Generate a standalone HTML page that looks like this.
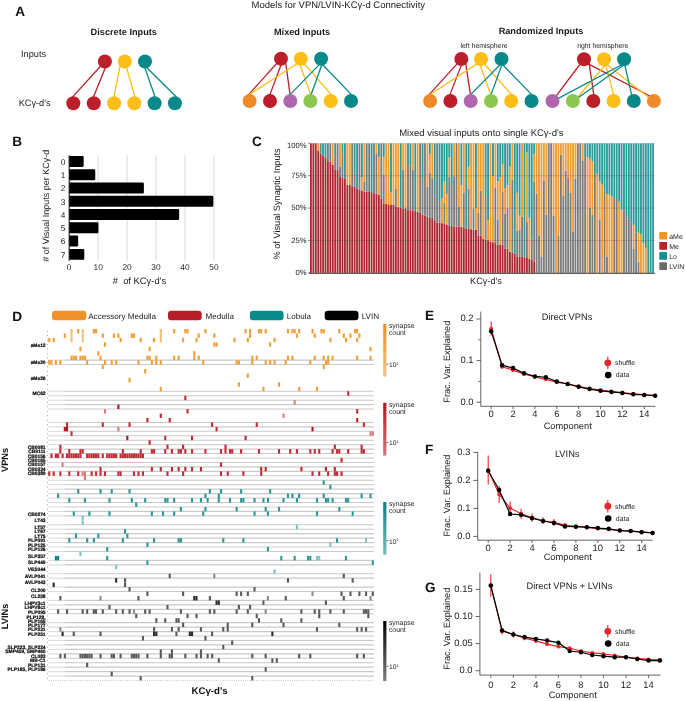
<!DOCTYPE html>
<html><head><meta charset="utf-8"><style>
html,body{margin:0;padding:0;background:#fff;}
svg{display:block;font-family:"Liberation Sans", sans-serif;}
.g{will-change:transform;}
</style></head><body>
<svg width="685" height="701" viewBox="0 0 685 701">
<rect width="685" height="701" fill="#fff"/>
<g class="g" text-rendering="geometricPrecision">
<text x="251.6" y="8.0" font-size="9.5" text-anchor="start" font-weight="400" fill="#1a1a1a" >Models for VPN/LVIN-KCγ-d Connectivity</text>
<text x="15.2" y="15.7" font-size="13.6" text-anchor="start" font-weight="700" fill="#111" >A</text>
<text x="123.8" y="34.5" font-size="9.2" text-anchor="middle" font-weight="700" fill="#1a1a1a" >Discrete Inputs</text>
<text x="302" y="34.5" font-size="9.2" text-anchor="middle" font-weight="700" fill="#1a1a1a" >Mixed Inputs</text>
<text x="541" y="34.4" font-size="9.2" text-anchor="middle" font-weight="700" fill="#1a1a1a" >Randomized Inputs</text>
<text x="484" y="48" font-size="6.9" text-anchor="middle" font-weight="400" fill="#1a1a1a" >left hemisphere</text>
<text x="602.8" y="48" font-size="6.9" text-anchor="middle" font-weight="400" fill="#1a1a1a" >right hemisphere</text>
<text x="21" y="56.7" font-size="9.2" text-anchor="start" font-weight="400" fill="#1a1a1a" >Inputs</text>
<text x="18.7" y="106" font-size="9.2" text-anchor="start" font-weight="400" fill="#1a1a1a" >KCγ-d's</text>
<line x1="100.96" y1="65.76" x2="72.41" y2="97.09" stroke="#BD1F2A" stroke-width="1.3"/>
<line x1="105.46" y1="67.39" x2="93.37" y2="97.31" stroke="#BD1F2A" stroke-width="1.3"/>
<line x1="120.22" y1="65.40" x2="113.82" y2="97.38" stroke="#FDBE17" stroke-width="1.3"/>
<line x1="126.36" y1="67.09" x2="135.09" y2="97.37" stroke="#FDBE17" stroke-width="1.3"/>
<line x1="144.68" y1="67.37" x2="155.17" y2="97.33" stroke="#088888" stroke-width="1.3"/>
<line x1="146.36" y1="67.30" x2="176.50" y2="97.08" stroke="#088888" stroke-width="1.3"/>
<circle cx="104.9" cy="61.5" r="7" fill="#BD1F2A"/>
<circle cx="124.8" cy="61.5" r="7" fill="#FDBE17"/>
<circle cx="145.0" cy="61.5" r="7" fill="#088888"/>
<circle cx="73.3" cy="103.2" r="7" fill="#BD1F2A"/>
<circle cx="93.8" cy="103.2" r="7" fill="#BD1F2A"/>
<circle cx="114.1" cy="103.2" r="7" fill="#FDBE17"/>
<circle cx="134.3" cy="103.2" r="7" fill="#FDBE17"/>
<circle cx="154.6" cy="103.2" r="7" fill="#088888"/>
<circle cx="174.9" cy="103.2" r="7" fill="#088888"/>
<line x1="277.10" y1="63.00" x2="248.39" y2="94.90" stroke="#BD1F2A" stroke-width="1.3"/>
<line x1="281.13" y1="64.57" x2="269.78" y2="95.13" stroke="#BD1F2A" stroke-width="1.3"/>
<line x1="285.63" y1="62.61" x2="290.17" y2="95.19" stroke="#BD1F2A" stroke-width="1.3"/>
<line x1="297.50" y1="63.57" x2="248.97" y2="94.66" stroke="#FDBE17" stroke-width="1.3"/>
<line x1="299.88" y1="64.55" x2="310.91" y2="95.13" stroke="#FDBE17" stroke-width="1.3"/>
<line x1="304.11" y1="63.47" x2="331.39" y2="94.91" stroke="#FDBE17" stroke-width="1.3"/>
<line x1="319.54" y1="64.42" x2="289.85" y2="94.87" stroke="#088888" stroke-width="1.3"/>
<line x1="321.92" y1="64.56" x2="310.87" y2="95.18" stroke="#088888" stroke-width="1.3"/>
<line x1="322.45" y1="64.49" x2="351.63" y2="94.87" stroke="#088888" stroke-width="1.3"/>
<circle cx="281" cy="58.7" r="7" fill="#BD1F2A"/>
<circle cx="300.8" cy="58.7" r="7" fill="#FDBE17"/>
<circle cx="321.1" cy="58.7" r="7" fill="#088888"/>
<circle cx="249.6" cy="101" r="7" fill="#EE8A2A"/>
<circle cx="270" cy="101" r="7" fill="#BD1F2A"/>
<circle cx="290.3" cy="101" r="7" fill="#B066AC"/>
<circle cx="310.4" cy="101" r="7" fill="#8DC650"/>
<circle cx="330.7" cy="101" r="7" fill="#FDBE17"/>
<circle cx="351" cy="101" r="7" fill="#088888"/>
<line x1="457.55" y1="63.42" x2="428.88" y2="94.90" stroke="#BD1F2A" stroke-width="1.3"/>
<line x1="461.54" y1="64.88" x2="449.76" y2="95.12" stroke="#BD1F2A" stroke-width="1.3"/>
<line x1="465.67" y1="63.13" x2="470.48" y2="95.20" stroke="#BD1F2A" stroke-width="1.3"/>
<line x1="477.38" y1="63.59" x2="429.84" y2="94.70" stroke="#FDBE17" stroke-width="1.3"/>
<line x1="479.98" y1="64.84" x2="490.91" y2="95.15" stroke="#FDBE17" stroke-width="1.3"/>
<line x1="484.32" y1="63.76" x2="511.80" y2="94.90" stroke="#FDBE17" stroke-width="1.3"/>
<line x1="500.11" y1="64.78" x2="470.34" y2="94.87" stroke="#088888" stroke-width="1.3"/>
<line x1="501.81" y1="64.87" x2="490.89" y2="95.14" stroke="#088888" stroke-width="1.3"/>
<line x1="502.75" y1="64.82" x2="531.95" y2="94.87" stroke="#088888" stroke-width="1.3"/>
<circle cx="461.3" cy="59" r="7" fill="#BD1F2A"/>
<circle cx="481" cy="59" r="7" fill="#FDBE17"/>
<circle cx="501.5" cy="59" r="7" fill="#088888"/>
<circle cx="430.1" cy="101" r="7" fill="#EE8A2A"/>
<circle cx="450.4" cy="101" r="7" fill="#BD1F2A"/>
<circle cx="470.7" cy="101" r="7" fill="#B066AC"/>
<circle cx="491" cy="101" r="7" fill="#8DC650"/>
<circle cx="511.2" cy="101" r="7" fill="#FDBE17"/>
<circle cx="531.5" cy="101" r="7" fill="#088888"/>
<line x1="580.40" y1="63.75" x2="555.88" y2="96.28" stroke="#BD1F2A" stroke-width="1.3"/>
<line x1="589.01" y1="62.72" x2="593.88" y2="95.20" stroke="#BD1F2A" stroke-width="1.3"/>
<line x1="587.78" y1="63.70" x2="650.37" y2="96.27" stroke="#BD1F2A" stroke-width="1.3"/>
<line x1="604.91" y1="65.29" x2="577.49" y2="97.54" stroke="#FDBE17" stroke-width="1.3"/>
<line x1="605.67" y1="64.78" x2="613.81" y2="95.16" stroke="#FDBE17" stroke-width="1.3"/>
<line x1="606.74" y1="64.47" x2="649.16" y2="97.65" stroke="#FDBE17" stroke-width="1.3"/>
<line x1="621.80" y1="64.78" x2="557.78" y2="98.60" stroke="#088888" stroke-width="1.3"/>
<line x1="623.38" y1="65.29" x2="577.82" y2="98.09" stroke="#088888" stroke-width="1.3"/>
<line x1="624.76" y1="64.97" x2="631.85" y2="95.53" stroke="#088888" stroke-width="1.3"/>
<circle cx="584" cy="59.2" r="7" fill="#BD1F2A"/>
<circle cx="604.1" cy="59.2" r="7" fill="#FDBE17"/>
<circle cx="624.1" cy="59.2" r="7" fill="#088888"/>
<circle cx="552.5" cy="101" r="7" fill="#B066AC"/>
<circle cx="572.8" cy="101" r="7" fill="#8DC650"/>
<circle cx="593.3" cy="101" r="7" fill="#BD1F2A"/>
<circle cx="613.6" cy="101" r="7" fill="#FDBE17"/>
<circle cx="633.8" cy="101" r="7" fill="#088888"/>
<circle cx="653.9" cy="101" r="7" fill="#EE8A2A"/>
<text x="12.2" y="145.7" font-size="13.6" text-anchor="start" font-weight="700" fill="#111" >B</text>
<line x1="98.14" y1="155.2" x2="98.14" y2="260.8" stroke="#d0d0d0" stroke-width="0.8"/>
<line x1="127.08" y1="155.2" x2="127.08" y2="260.8" stroke="#d0d0d0" stroke-width="0.8"/>
<line x1="156.02" y1="155.2" x2="156.02" y2="260.8" stroke="#d0d0d0" stroke-width="0.8"/>
<line x1="184.96" y1="155.2" x2="184.96" y2="260.8" stroke="#d0d0d0" stroke-width="0.8"/>
<line x1="213.90" y1="155.2" x2="213.90" y2="260.8" stroke="#d0d0d0" stroke-width="0.8"/>
<rect x="69.2" y="156.00" width="14.47" height="10.9" rx="1.2" fill="#000"/>
<text x="63" y="164.85" font-size="8.3" text-anchor="middle" font-weight="400" fill="#222" >0</text>
<rect x="69.2" y="169.27" width="26.05" height="10.9" rx="1.2" fill="#000"/>
<text x="63" y="178.12" font-size="8.3" text-anchor="middle" font-weight="400" fill="#222" >1</text>
<rect x="69.2" y="182.54" width="74.67" height="10.9" rx="1.2" fill="#000"/>
<text x="63" y="191.39" font-size="8.3" text-anchor="middle" font-weight="400" fill="#222" >2</text>
<rect x="69.2" y="195.81" width="144.12" height="10.9" rx="1.2" fill="#000"/>
<text x="63" y="204.66" font-size="8.3" text-anchor="middle" font-weight="400" fill="#222" >3</text>
<rect x="69.2" y="209.08" width="109.97" height="10.9" rx="1.2" fill="#000"/>
<text x="63" y="217.92999999999998" font-size="8.3" text-anchor="middle" font-weight="400" fill="#222" >4</text>
<rect x="69.2" y="222.35" width="29.23" height="10.9" rx="1.2" fill="#000"/>
<text x="63" y="231.2" font-size="8.3" text-anchor="middle" font-weight="400" fill="#222" >5</text>
<rect x="69.2" y="235.62" width="8.97" height="10.9" rx="1.2" fill="#000"/>
<text x="63" y="244.47" font-size="8.3" text-anchor="middle" font-weight="400" fill="#222" >6</text>
<rect x="69.2" y="248.89" width="15.05" height="10.9" rx="1.2" fill="#000"/>
<text x="63" y="257.73999999999995" font-size="8.3" text-anchor="middle" font-weight="400" fill="#222" >7</text>
<line x1="69.2" y1="155.2" x2="69.2" y2="260.8" stroke="#111" stroke-width="1.1"/>
<text x="69.2" y="270.2" font-size="8.4" text-anchor="middle" font-weight="400" fill="#222" >0</text>
<text x="98.14" y="270.2" font-size="8.4" text-anchor="middle" font-weight="400" fill="#222" >10</text>
<text x="127.08000000000001" y="270.2" font-size="8.4" text-anchor="middle" font-weight="400" fill="#222" >20</text>
<text x="156.02" y="270.2" font-size="8.4" text-anchor="middle" font-weight="400" fill="#222" >30</text>
<text x="184.96" y="270.2" font-size="8.4" text-anchor="middle" font-weight="400" fill="#222" >40</text>
<text x="213.90000000000003" y="270.2" font-size="8.4" text-anchor="middle" font-weight="400" fill="#222" >50</text>
<text x="139.4" y="283.8" font-size="9.4" text-anchor="middle" font-weight="400" fill="#222" >#&#160; of KCγ-d's</text>
<text x="0" y="0" font-size="9.0" text-anchor="middle" font-weight="400" fill="#222" transform="translate(49.2,205.7) rotate(-90)"># of Visual Inputs per KCγ-d</text>
<text x="425.1" y="319.8" font-size="13.6" text-anchor="start" font-weight="700" fill="#111" >E</text>
<text x="567" y="320.4" font-size="9.3" text-anchor="middle" font-weight="400" fill="#222" >Direct VPNs</text>
<line x1="480.8" y1="311.7" x2="480.8" y2="406.3" stroke="#555" stroke-width="0.9"/>
<line x1="480.8" y1="406.3" x2="655.4" y2="406.3" stroke="#555" stroke-width="0.9"/>
<line x1="476.40000000000003" y1="402.20" x2="480.8" y2="402.20" stroke="#555" stroke-width="0.9"/>
<text x="473.5" y="404.5" font-size="9.4" text-anchor="end" font-weight="400" fill="#222" >0.0</text>
<line x1="476.40000000000003" y1="360.60" x2="480.8" y2="360.60" stroke="#555" stroke-width="0.9"/>
<text x="473.5" y="362.9" font-size="9.4" text-anchor="end" font-weight="400" fill="#222" >0.1</text>
<line x1="476.40000000000003" y1="319.00" x2="480.8" y2="319.00" stroke="#555" stroke-width="0.9"/>
<text x="473.5" y="321.3" font-size="9.4" text-anchor="end" font-weight="400" fill="#222" >0.2</text>
<line x1="478.3" y1="381.40" x2="480.8" y2="381.40" stroke="#555" stroke-width="0.9"/>
<line x1="478.3" y1="339.80" x2="480.8" y2="339.80" stroke="#555" stroke-width="0.9"/>
<line x1="491.20" y1="406.3" x2="491.20" y2="409.1" stroke="#555" stroke-width="0.9"/>
<text x="491.2" y="417.3" font-size="9.4" text-anchor="middle" font-weight="400" fill="#222" >0</text>
<line x1="513.06" y1="406.3" x2="513.06" y2="409.1" stroke="#555" stroke-width="0.9"/>
<text x="513.06" y="417.3" font-size="9.4" text-anchor="middle" font-weight="400" fill="#222" >2</text>
<line x1="534.92" y1="406.3" x2="534.92" y2="409.1" stroke="#555" stroke-width="0.9"/>
<text x="534.92" y="417.3" font-size="9.4" text-anchor="middle" font-weight="400" fill="#222" >4</text>
<line x1="556.78" y1="406.3" x2="556.78" y2="409.1" stroke="#555" stroke-width="0.9"/>
<text x="556.78" y="417.3" font-size="9.4" text-anchor="middle" font-weight="400" fill="#222" >6</text>
<line x1="578.64" y1="406.3" x2="578.64" y2="409.1" stroke="#555" stroke-width="0.9"/>
<text x="578.64" y="417.3" font-size="9.4" text-anchor="middle" font-weight="400" fill="#222" >8</text>
<line x1="600.50" y1="406.3" x2="600.50" y2="409.1" stroke="#555" stroke-width="0.9"/>
<text x="600.5" y="417.3" font-size="9.4" text-anchor="middle" font-weight="400" fill="#222" >10</text>
<line x1="622.36" y1="406.3" x2="622.36" y2="409.1" stroke="#555" stroke-width="0.9"/>
<text x="622.36" y="417.3" font-size="9.4" text-anchor="middle" font-weight="400" fill="#222" >12</text>
<line x1="644.22" y1="406.3" x2="644.22" y2="409.1" stroke="#555" stroke-width="0.9"/>
<text x="644.22" y="417.3" font-size="9.4" text-anchor="middle" font-weight="400" fill="#222" >14</text>
<text x="567.7" y="428.7" font-size="9.3" text-anchor="middle" font-weight="400" fill="#222" >Component</text>
<text x="0" y="0" font-size="9.2" text-anchor="middle" font-weight="400" fill="#1a1a1a" transform="translate(450,361.7) rotate(-90)">Frac. Var. Explained</text>
<polyline points="491.20,328.57 502.13,366.84 513.06,370.17 523.99,373.91 534.92,376.82 545.85,379.32 556.78,382.23 567.71,383.90 578.64,386.39 589.57,388.47 600.50,390.14 611.43,391.38 622.36,392.63 633.29,393.88 644.22,394.71 655.15,395.54" fill="none" stroke="#E8262B" stroke-width="1.2"/>
<line x1="491.20" y1="321.50" x2="491.20" y2="335.64" stroke="#E8262B" stroke-width="1.1"/>
<circle cx="491.20" cy="328.57" r="1.9" fill="#E8262B"/>
<line x1="502.13" y1="365.18" x2="502.13" y2="368.50" stroke="#E8262B" stroke-width="1.1"/>
<circle cx="502.13" cy="366.84" r="1.9" fill="#E8262B"/>
<line x1="513.06" y1="368.50" x2="513.06" y2="371.83" stroke="#E8262B" stroke-width="1.1"/>
<circle cx="513.06" cy="370.17" r="1.9" fill="#E8262B"/>
<line x1="523.99" y1="372.66" x2="523.99" y2="375.16" stroke="#E8262B" stroke-width="1.1"/>
<circle cx="523.99" cy="373.91" r="1.9" fill="#E8262B"/>
<line x1="534.92" y1="375.58" x2="534.92" y2="378.07" stroke="#E8262B" stroke-width="1.1"/>
<circle cx="534.92" cy="376.82" r="1.9" fill="#E8262B"/>
<line x1="545.85" y1="378.07" x2="545.85" y2="380.57" stroke="#E8262B" stroke-width="1.1"/>
<circle cx="545.85" cy="379.32" r="1.9" fill="#E8262B"/>
<line x1="556.78" y1="381.40" x2="556.78" y2="383.06" stroke="#E8262B" stroke-width="1.1"/>
<circle cx="556.78" cy="382.23" r="1.9" fill="#E8262B"/>
<line x1="567.71" y1="383.06" x2="567.71" y2="384.73" stroke="#E8262B" stroke-width="1.1"/>
<circle cx="567.71" cy="383.90" r="1.9" fill="#E8262B"/>
<line x1="578.64" y1="385.56" x2="578.64" y2="387.22" stroke="#E8262B" stroke-width="1.1"/>
<circle cx="578.64" cy="386.39" r="1.9" fill="#E8262B"/>
<line x1="589.57" y1="387.64" x2="589.57" y2="389.30" stroke="#E8262B" stroke-width="1.1"/>
<circle cx="589.57" cy="388.47" r="1.9" fill="#E8262B"/>
<line x1="600.50" y1="389.30" x2="600.50" y2="390.97" stroke="#E8262B" stroke-width="1.1"/>
<circle cx="600.50" cy="390.14" r="1.9" fill="#E8262B"/>
<line x1="611.43" y1="390.55" x2="611.43" y2="392.22" stroke="#E8262B" stroke-width="1.1"/>
<circle cx="611.43" cy="391.38" r="1.9" fill="#E8262B"/>
<line x1="622.36" y1="391.80" x2="622.36" y2="393.46" stroke="#E8262B" stroke-width="1.1"/>
<circle cx="622.36" cy="392.63" r="1.9" fill="#E8262B"/>
<line x1="633.29" y1="393.05" x2="633.29" y2="394.71" stroke="#E8262B" stroke-width="1.1"/>
<circle cx="633.29" cy="393.88" r="1.9" fill="#E8262B"/>
<line x1="644.22" y1="394.30" x2="644.22" y2="395.13" stroke="#E8262B" stroke-width="1.1"/>
<circle cx="644.22" cy="394.71" r="1.9" fill="#E8262B"/>
<line x1="655.15" y1="395.13" x2="655.15" y2="395.96" stroke="#E8262B" stroke-width="1.1"/>
<circle cx="655.15" cy="395.54" r="1.9" fill="#E8262B"/>
<polyline points="491.20,331.31 502.13,365.18 513.06,368.09 523.99,373.29 534.92,376.41 545.85,377.24 556.78,381.61 567.71,383.98 578.64,386.81 589.57,389.10 600.50,390.80 611.43,391.88 622.36,393.01 633.29,394.30 644.22,395.00 655.15,395.71" fill="none" stroke="#000" stroke-width="1.2"/>
<circle cx="491.20" cy="331.31" r="2.25" fill="#000"/>
<circle cx="502.13" cy="365.18" r="2.25" fill="#000"/>
<circle cx="513.06" cy="368.09" r="2.25" fill="#000"/>
<circle cx="523.99" cy="373.29" r="2.25" fill="#000"/>
<circle cx="534.92" cy="376.41" r="2.25" fill="#000"/>
<circle cx="545.85" cy="377.24" r="2.25" fill="#000"/>
<circle cx="556.78" cy="381.61" r="2.25" fill="#000"/>
<circle cx="567.71" cy="383.98" r="2.25" fill="#000"/>
<circle cx="578.64" cy="386.81" r="2.25" fill="#000"/>
<circle cx="589.57" cy="389.10" r="2.25" fill="#000"/>
<circle cx="600.50" cy="390.80" r="2.25" fill="#000"/>
<circle cx="611.43" cy="391.88" r="2.25" fill="#000"/>
<circle cx="622.36" cy="393.01" r="2.25" fill="#000"/>
<circle cx="633.29" cy="394.30" r="2.25" fill="#000"/>
<circle cx="644.22" cy="395.00" r="2.25" fill="#000"/>
<circle cx="655.15" cy="395.71" r="2.25" fill="#000"/>
<line x1="607.8" y1="356.5" x2="607.8" y2="369.1" stroke="#E8262B" stroke-width="1.1"/>
<circle cx="607.8" cy="362.8" r="3.4" fill="#E8262B"/>
<text x="615" y="365.1" font-size="6.9" text-anchor="start" font-weight="400" fill="#1a1a1a" >shuffle</text>
<circle cx="608.2" cy="375.1" r="3.3" fill="#000"/>
<text x="615.8" y="377.40000000000003" font-size="6.9" text-anchor="start" font-weight="400" fill="#1a1a1a" >data</text>
<text x="425.1" y="454.0" font-size="13.6" text-anchor="start" font-weight="700" fill="#111" >F</text>
<text x="567.2" y="456.5" font-size="9.3" text-anchor="middle" font-weight="400" fill="#222" >LVINs</text>
<line x1="477.7" y1="451.9" x2="477.7" y2="540.2" stroke="#555" stroke-width="0.9"/>
<line x1="477.7" y1="540.2" x2="652.7" y2="540.2" stroke="#555" stroke-width="0.9"/>
<line x1="473.3" y1="536.40" x2="477.7" y2="536.40" stroke="#555" stroke-width="0.9"/>
<text x="470.4" y="538.6999999999999" font-size="9.4" text-anchor="end" font-weight="400" fill="#222" >0.0</text>
<line x1="473.3" y1="508.40" x2="477.7" y2="508.40" stroke="#555" stroke-width="0.9"/>
<text x="470.4" y="510.7" font-size="9.4" text-anchor="end" font-weight="400" fill="#222" >0.1</text>
<line x1="473.3" y1="480.40" x2="477.7" y2="480.40" stroke="#555" stroke-width="0.9"/>
<text x="470.4" y="482.7" font-size="9.4" text-anchor="end" font-weight="400" fill="#222" >0.2</text>
<line x1="473.3" y1="452.40" x2="477.7" y2="452.40" stroke="#555" stroke-width="0.9"/>
<text x="470.4" y="454.7" font-size="9.4" text-anchor="end" font-weight="400" fill="#222" >0.3</text>
<line x1="488.20" y1="540.2" x2="488.20" y2="543.0" stroke="#555" stroke-width="0.9"/>
<text x="488.2" y="550.5" font-size="9.4" text-anchor="middle" font-weight="400" fill="#222" >0</text>
<line x1="510.12" y1="540.2" x2="510.12" y2="543.0" stroke="#555" stroke-width="0.9"/>
<text x="510.12" y="550.5" font-size="9.4" text-anchor="middle" font-weight="400" fill="#222" >2</text>
<line x1="532.04" y1="540.2" x2="532.04" y2="543.0" stroke="#555" stroke-width="0.9"/>
<text x="532.04" y="550.5" font-size="9.4" text-anchor="middle" font-weight="400" fill="#222" >4</text>
<line x1="553.96" y1="540.2" x2="553.96" y2="543.0" stroke="#555" stroke-width="0.9"/>
<text x="553.96" y="550.5" font-size="9.4" text-anchor="middle" font-weight="400" fill="#222" >6</text>
<line x1="575.88" y1="540.2" x2="575.88" y2="543.0" stroke="#555" stroke-width="0.9"/>
<text x="575.88" y="550.5" font-size="9.4" text-anchor="middle" font-weight="400" fill="#222" >8</text>
<line x1="597.80" y1="540.2" x2="597.80" y2="543.0" stroke="#555" stroke-width="0.9"/>
<text x="597.8" y="550.5" font-size="9.4" text-anchor="middle" font-weight="400" fill="#222" >10</text>
<line x1="619.72" y1="540.2" x2="619.72" y2="543.0" stroke="#555" stroke-width="0.9"/>
<text x="619.72" y="550.5" font-size="9.4" text-anchor="middle" font-weight="400" fill="#222" >12</text>
<line x1="641.64" y1="540.2" x2="641.64" y2="543.0" stroke="#555" stroke-width="0.9"/>
<text x="641.64" y="550.5" font-size="9.4" text-anchor="middle" font-weight="400" fill="#222" >14</text>
<text x="567.7" y="560.2" font-size="9.3" text-anchor="middle" font-weight="400" fill="#222" >Component</text>
<text x="0" y="0" font-size="9.2" text-anchor="middle" font-weight="400" fill="#1a1a1a" transform="translate(450,495.6) rotate(-90)">Frac. Var. Explained</text>
<polyline points="488.20,470.04 499.16,494.40 510.12,508.12 521.08,513.72 532.04,517.64 543.00,520.72 553.96,522.40 564.92,525.20 575.88,526.32 586.84,527.44 597.80,528.56 608.76,529.40 619.72,530.52 630.68,531.08 641.64,531.92 652.60,532.76" fill="none" stroke="#E8262B" stroke-width="1.2"/>
<line x1="488.20" y1="455.48" x2="488.20" y2="484.60" stroke="#E8262B" stroke-width="1.1"/>
<circle cx="488.20" cy="470.04" r="1.9" fill="#E8262B"/>
<line x1="499.16" y1="485.72" x2="499.16" y2="503.08" stroke="#E8262B" stroke-width="1.1"/>
<circle cx="499.16" cy="494.40" r="1.9" fill="#E8262B"/>
<line x1="510.12" y1="501.40" x2="510.12" y2="514.84" stroke="#E8262B" stroke-width="1.1"/>
<circle cx="510.12" cy="508.12" r="1.9" fill="#E8262B"/>
<line x1="521.08" y1="508.68" x2="521.08" y2="518.76" stroke="#E8262B" stroke-width="1.1"/>
<circle cx="521.08" cy="513.72" r="1.9" fill="#E8262B"/>
<line x1="532.04" y1="513.44" x2="532.04" y2="521.84" stroke="#E8262B" stroke-width="1.1"/>
<circle cx="532.04" cy="517.64" r="1.9" fill="#E8262B"/>
<line x1="543.00" y1="517.36" x2="543.00" y2="524.08" stroke="#E8262B" stroke-width="1.1"/>
<circle cx="543.00" cy="520.72" r="1.9" fill="#E8262B"/>
<line x1="553.96" y1="519.04" x2="553.96" y2="525.76" stroke="#E8262B" stroke-width="1.1"/>
<circle cx="553.96" cy="522.40" r="1.9" fill="#E8262B"/>
<line x1="564.92" y1="522.96" x2="564.92" y2="527.44" stroke="#E8262B" stroke-width="1.1"/>
<circle cx="564.92" cy="525.20" r="1.9" fill="#E8262B"/>
<line x1="575.88" y1="524.64" x2="575.88" y2="528.00" stroke="#E8262B" stroke-width="1.1"/>
<circle cx="575.88" cy="526.32" r="1.9" fill="#E8262B"/>
<line x1="586.84" y1="526.04" x2="586.84" y2="528.84" stroke="#E8262B" stroke-width="1.1"/>
<circle cx="586.84" cy="527.44" r="1.9" fill="#E8262B"/>
<line x1="597.80" y1="527.16" x2="597.80" y2="529.96" stroke="#E8262B" stroke-width="1.1"/>
<circle cx="597.80" cy="528.56" r="1.9" fill="#E8262B"/>
<line x1="608.76" y1="528.00" x2="608.76" y2="530.80" stroke="#E8262B" stroke-width="1.1"/>
<circle cx="608.76" cy="529.40" r="1.9" fill="#E8262B"/>
<line x1="619.72" y1="529.40" x2="619.72" y2="531.64" stroke="#E8262B" stroke-width="1.1"/>
<circle cx="619.72" cy="530.52" r="1.9" fill="#E8262B"/>
<line x1="630.68" y1="530.24" x2="630.68" y2="531.92" stroke="#E8262B" stroke-width="1.1"/>
<circle cx="630.68" cy="531.08" r="1.9" fill="#E8262B"/>
<line x1="641.64" y1="531.08" x2="641.64" y2="532.76" stroke="#E8262B" stroke-width="1.1"/>
<circle cx="641.64" cy="531.92" r="1.9" fill="#E8262B"/>
<line x1="652.60" y1="531.92" x2="652.60" y2="533.60" stroke="#E8262B" stroke-width="1.1"/>
<circle cx="652.60" cy="532.76" r="1.9" fill="#E8262B"/>
<polyline points="488.20,470.71 499.16,489.92 510.12,514.00 521.08,514.84 532.04,518.20 543.00,521.00 553.96,522.96 564.92,526.40 575.88,526.71 586.84,527.16 597.80,528.11 608.76,528.84 619.72,530.60 630.68,531.08 641.64,532.20 652.60,532.90" fill="none" stroke="#000" stroke-width="1.2"/>
<circle cx="488.20" cy="470.71" r="2.25" fill="#000"/>
<circle cx="499.16" cy="489.92" r="2.25" fill="#000"/>
<circle cx="510.12" cy="514.00" r="2.25" fill="#000"/>
<circle cx="521.08" cy="514.84" r="2.25" fill="#000"/>
<circle cx="532.04" cy="518.20" r="2.25" fill="#000"/>
<circle cx="543.00" cy="521.00" r="2.25" fill="#000"/>
<circle cx="553.96" cy="522.96" r="2.25" fill="#000"/>
<circle cx="564.92" cy="526.40" r="2.25" fill="#000"/>
<circle cx="575.88" cy="526.71" r="2.25" fill="#000"/>
<circle cx="586.84" cy="527.16" r="2.25" fill="#000"/>
<circle cx="597.80" cy="528.11" r="2.25" fill="#000"/>
<circle cx="608.76" cy="528.84" r="2.25" fill="#000"/>
<circle cx="619.72" cy="530.60" r="2.25" fill="#000"/>
<circle cx="630.68" cy="531.08" r="2.25" fill="#000"/>
<circle cx="641.64" cy="532.20" r="2.25" fill="#000"/>
<circle cx="652.60" cy="532.90" r="2.25" fill="#000"/>
<line x1="607.8" y1="499.9" x2="607.8" y2="512.5" stroke="#E8262B" stroke-width="1.1"/>
<circle cx="607.8" cy="506.2" r="3.4" fill="#E8262B"/>
<text x="615" y="508.5" font-size="6.9" text-anchor="start" font-weight="400" fill="#1a1a1a" >shuffle</text>
<circle cx="608.2" cy="518.5" r="3.3" fill="#000"/>
<text x="615.8" y="520.8" font-size="6.9" text-anchor="start" font-weight="400" fill="#1a1a1a" >data</text>
<text x="425.0" y="592.2" font-size="13.6" text-anchor="start" font-weight="700" fill="#111" >G</text>
<text x="569.4" y="588.5" font-size="9.3" text-anchor="middle" font-weight="400" fill="#222" >Direct VPNs + LVINs</text>
<line x1="479.9" y1="572.6" x2="479.9" y2="675.1" stroke="#555" stroke-width="0.9"/>
<line x1="479.9" y1="675.1" x2="660.6" y2="675.1" stroke="#555" stroke-width="0.9"/>
<line x1="475.5" y1="670.70" x2="479.9" y2="670.70" stroke="#555" stroke-width="0.9"/>
<text x="472.59999999999997" y="673.0" font-size="9.4" text-anchor="end" font-weight="400" fill="#222" >0.0</text>
<line x1="475.5" y1="643.60" x2="479.9" y2="643.60" stroke="#555" stroke-width="0.9"/>
<text x="472.59999999999997" y="645.9" font-size="9.4" text-anchor="end" font-weight="400" fill="#222" >0.05</text>
<line x1="475.5" y1="616.50" x2="479.9" y2="616.50" stroke="#555" stroke-width="0.9"/>
<text x="472.59999999999997" y="618.8" font-size="9.4" text-anchor="end" font-weight="400" fill="#222" >0.10</text>
<line x1="475.5" y1="589.40" x2="479.9" y2="589.40" stroke="#555" stroke-width="0.9"/>
<text x="472.59999999999997" y="591.7" font-size="9.4" text-anchor="end" font-weight="400" fill="#222" >0.15</text>
<line x1="490.80" y1="675.1" x2="490.80" y2="677.9" stroke="#555" stroke-width="0.9"/>
<text x="490.8" y="687.9" font-size="9.4" text-anchor="middle" font-weight="400" fill="#222" >0</text>
<line x1="513.34" y1="675.1" x2="513.34" y2="677.9" stroke="#555" stroke-width="0.9"/>
<text x="513.34" y="687.9" font-size="9.4" text-anchor="middle" font-weight="400" fill="#222" >2</text>
<line x1="535.88" y1="675.1" x2="535.88" y2="677.9" stroke="#555" stroke-width="0.9"/>
<text x="535.88" y="687.9" font-size="9.4" text-anchor="middle" font-weight="400" fill="#222" >4</text>
<line x1="558.42" y1="675.1" x2="558.42" y2="677.9" stroke="#555" stroke-width="0.9"/>
<text x="558.4200000000001" y="687.9" font-size="9.4" text-anchor="middle" font-weight="400" fill="#222" >6</text>
<line x1="580.96" y1="675.1" x2="580.96" y2="677.9" stroke="#555" stroke-width="0.9"/>
<text x="580.96" y="687.9" font-size="9.4" text-anchor="middle" font-weight="400" fill="#222" >8</text>
<line x1="603.50" y1="675.1" x2="603.50" y2="677.9" stroke="#555" stroke-width="0.9"/>
<text x="603.5" y="687.9" font-size="9.4" text-anchor="middle" font-weight="400" fill="#222" >10</text>
<line x1="626.04" y1="675.1" x2="626.04" y2="677.9" stroke="#555" stroke-width="0.9"/>
<text x="626.04" y="687.9" font-size="9.4" text-anchor="middle" font-weight="400" fill="#222" >12</text>
<line x1="648.58" y1="675.1" x2="648.58" y2="677.9" stroke="#555" stroke-width="0.9"/>
<text x="648.58" y="687.9" font-size="9.4" text-anchor="middle" font-weight="400" fill="#222" >14</text>
<text x="572.7" y="697.6" font-size="9.3" text-anchor="middle" font-weight="400" fill="#222" >Component</text>
<text x="0" y="0" font-size="9.2" text-anchor="middle" font-weight="400" fill="#1a1a1a" transform="translate(450,628.7) rotate(-90)">Frac. Var. Explained</text>
<polyline points="490.80,585.61 502.07,631.13 513.34,634.39 524.61,638.18 535.88,640.89 547.15,644.14 558.42,646.58 569.69,648.21 580.96,651.03 592.23,652.81 603.50,653.90 614.77,655.52 626.04,657.15 637.31,658.40 648.58,659.32 659.85,659.86" fill="none" stroke="#E8262B" stroke-width="1.2"/>
<line x1="490.80" y1="574.22" x2="490.80" y2="596.99" stroke="#E8262B" stroke-width="1.1"/>
<circle cx="490.80" cy="585.61" r="1.9" fill="#E8262B"/>
<line x1="502.07" y1="627.88" x2="502.07" y2="634.39" stroke="#E8262B" stroke-width="1.1"/>
<circle cx="502.07" cy="631.13" r="1.9" fill="#E8262B"/>
<line x1="513.34" y1="631.13" x2="513.34" y2="637.64" stroke="#E8262B" stroke-width="1.1"/>
<circle cx="513.34" cy="634.39" r="1.9" fill="#E8262B"/>
<line x1="524.61" y1="636.01" x2="524.61" y2="640.35" stroke="#E8262B" stroke-width="1.1"/>
<circle cx="524.61" cy="638.18" r="1.9" fill="#E8262B"/>
<line x1="535.88" y1="638.72" x2="535.88" y2="643.06" stroke="#E8262B" stroke-width="1.1"/>
<circle cx="535.88" cy="640.89" r="1.9" fill="#E8262B"/>
<line x1="547.15" y1="642.52" x2="547.15" y2="645.77" stroke="#E8262B" stroke-width="1.1"/>
<circle cx="547.15" cy="644.14" r="1.9" fill="#E8262B"/>
<line x1="558.42" y1="644.96" x2="558.42" y2="648.21" stroke="#E8262B" stroke-width="1.1"/>
<circle cx="558.42" cy="646.58" r="1.9" fill="#E8262B"/>
<line x1="569.69" y1="646.58" x2="569.69" y2="649.83" stroke="#E8262B" stroke-width="1.1"/>
<circle cx="569.69" cy="648.21" r="1.9" fill="#E8262B"/>
<line x1="580.96" y1="649.40" x2="580.96" y2="652.65" stroke="#E8262B" stroke-width="1.1"/>
<circle cx="580.96" cy="651.03" r="1.9" fill="#E8262B"/>
<line x1="592.23" y1="651.73" x2="592.23" y2="653.90" stroke="#E8262B" stroke-width="1.1"/>
<circle cx="592.23" cy="652.81" r="1.9" fill="#E8262B"/>
<line x1="603.50" y1="652.81" x2="603.50" y2="654.98" stroke="#E8262B" stroke-width="1.1"/>
<circle cx="603.50" cy="653.90" r="1.9" fill="#E8262B"/>
<line x1="614.77" y1="654.44" x2="614.77" y2="656.61" stroke="#E8262B" stroke-width="1.1"/>
<circle cx="614.77" cy="655.52" r="1.9" fill="#E8262B"/>
<line x1="626.04" y1="656.07" x2="626.04" y2="658.23" stroke="#E8262B" stroke-width="1.1"/>
<circle cx="626.04" cy="657.15" r="1.9" fill="#E8262B"/>
<line x1="637.31" y1="657.31" x2="637.31" y2="659.48" stroke="#E8262B" stroke-width="1.1"/>
<circle cx="637.31" cy="658.40" r="1.9" fill="#E8262B"/>
<line x1="648.58" y1="658.23" x2="648.58" y2="660.40" stroke="#E8262B" stroke-width="1.1"/>
<circle cx="648.58" cy="659.32" r="1.9" fill="#E8262B"/>
<line x1="659.85" y1="658.78" x2="659.85" y2="660.94" stroke="#E8262B" stroke-width="1.1"/>
<circle cx="659.85" cy="659.86" r="1.9" fill="#E8262B"/>
<polyline points="490.80,585.61 502.07,630.38 513.34,634.49 524.61,637.10 535.88,638.88 547.15,640.62 558.42,642.68 569.69,651.03 580.96,652.27 592.23,654.98 603.50,656.17 614.77,657.15 626.04,657.20 637.31,658.99 648.58,660.62 659.85,660.62" fill="none" stroke="#000" stroke-width="1.2"/>
<circle cx="490.80" cy="585.61" r="2.25" fill="#000"/>
<circle cx="502.07" cy="630.38" r="2.25" fill="#000"/>
<circle cx="513.34" cy="634.49" r="2.25" fill="#000"/>
<circle cx="524.61" cy="637.10" r="2.25" fill="#000"/>
<circle cx="535.88" cy="638.88" r="2.25" fill="#000"/>
<circle cx="547.15" cy="640.62" r="2.25" fill="#000"/>
<circle cx="558.42" cy="642.68" r="2.25" fill="#000"/>
<circle cx="569.69" cy="651.03" r="2.25" fill="#000"/>
<circle cx="580.96" cy="652.27" r="2.25" fill="#000"/>
<circle cx="592.23" cy="654.98" r="2.25" fill="#000"/>
<circle cx="603.50" cy="656.17" r="2.25" fill="#000"/>
<circle cx="614.77" cy="657.15" r="2.25" fill="#000"/>
<circle cx="626.04" cy="657.20" r="2.25" fill="#000"/>
<circle cx="637.31" cy="658.99" r="2.25" fill="#000"/>
<circle cx="648.58" cy="660.62" r="2.25" fill="#000"/>
<circle cx="659.85" cy="660.62" r="2.25" fill="#000"/>
<line x1="607.8" y1="625.0" x2="607.8" y2="637.5999999999999" stroke="#E8262B" stroke-width="1.1"/>
<circle cx="607.8" cy="631.3" r="3.4" fill="#E8262B"/>
<text x="615" y="633.5999999999999" font-size="6.9" text-anchor="start" font-weight="400" fill="#1a1a1a" >shuffle</text>
<circle cx="608.2" cy="643.5999999999999" r="3.3" fill="#000"/>
<text x="615.8" y="645.8999999999999" font-size="6.9" text-anchor="start" font-weight="400" fill="#1a1a1a" >data</text>
<text x="252.0" y="145.5" font-size="13.6" text-anchor="start" font-weight="700" fill="#111" >C</text>
<text x="481.4" y="135.8" font-size="9.5" text-anchor="middle" font-weight="400" fill="#222" >Mixed visual inputs onto single KCγ-d's</text>
<rect x="310.00" y="143.30" width="1.84" height="129.60" fill="#AE2730"/>
<rect x="312.43" y="143.30" width="1.84" height="129.60" fill="#AE2730"/>
<rect x="314.85" y="143.30" width="1.84" height="129.60" fill="#AE2730"/>
<rect x="317.28" y="150.43" width="1.84" height="122.47" fill="#AE2730"/>
<rect x="317.28" y="143.30" width="1.84" height="7.13" fill="#F39A30"/>
<rect x="319.71" y="153.54" width="1.84" height="119.36" fill="#AE2730"/>
<rect x="319.71" y="143.30" width="1.84" height="10.24" fill="#7C7C7C"/>
<rect x="322.13" y="155.48" width="1.84" height="117.42" fill="#AE2730"/>
<rect x="322.13" y="143.30" width="1.84" height="12.18" fill="#2A9B9A"/>
<rect x="324.56" y="157.43" width="1.84" height="115.47" fill="#AE2730"/>
<rect x="324.56" y="143.30" width="1.84" height="14.13" fill="#2A9B9A"/>
<rect x="326.99" y="161.18" width="1.84" height="111.72" fill="#AE2730"/>
<rect x="326.99" y="143.30" width="1.84" height="17.88" fill="#7C7C7C"/>
<rect x="329.41" y="161.83" width="1.84" height="111.07" fill="#AE2730"/>
<rect x="329.41" y="143.30" width="1.84" height="18.53" fill="#7C7C7C"/>
<rect x="331.84" y="164.68" width="1.84" height="108.22" fill="#AE2730"/>
<rect x="331.84" y="143.30" width="1.84" height="21.38" fill="#F39A30"/>
<rect x="334.27" y="169.35" width="1.84" height="103.55" fill="#AE2730"/>
<rect x="334.27" y="155.22" width="1.84" height="14.13" fill="#7C7C7C"/>
<rect x="334.27" y="143.30" width="1.84" height="11.92" fill="#2A9B9A"/>
<rect x="336.69" y="170.13" width="1.84" height="102.77" fill="#AE2730"/>
<rect x="336.69" y="143.30" width="1.84" height="26.83" fill="#7C7C7C"/>
<rect x="339.12" y="177.00" width="1.84" height="95.90" fill="#AE2730"/>
<rect x="339.12" y="166.37" width="1.84" height="10.63" fill="#7C7C7C"/>
<rect x="339.12" y="143.30" width="1.84" height="23.07" fill="#F39A30"/>
<rect x="341.55" y="177.77" width="1.84" height="95.13" fill="#AE2730"/>
<rect x="341.55" y="152.24" width="1.84" height="25.53" fill="#7C7C7C"/>
<rect x="341.55" y="143.30" width="1.84" height="8.94" fill="#2A9B9A"/>
<rect x="343.97" y="178.29" width="1.84" height="94.61" fill="#AE2730"/>
<rect x="343.97" y="143.30" width="1.84" height="34.99" fill="#2A9B9A"/>
<rect x="346.40" y="185.03" width="1.84" height="87.87" fill="#AE2730"/>
<rect x="346.40" y="143.30" width="1.84" height="41.73" fill="#F39A30"/>
<rect x="348.83" y="185.03" width="1.84" height="87.87" fill="#AE2730"/>
<rect x="348.83" y="143.30" width="1.84" height="41.73" fill="#F39A30"/>
<rect x="351.25" y="186.33" width="1.84" height="86.57" fill="#AE2730"/>
<rect x="351.25" y="143.30" width="1.84" height="43.03" fill="#7C7C7C"/>
<rect x="353.68" y="186.33" width="1.84" height="86.57" fill="#AE2730"/>
<rect x="353.68" y="172.59" width="1.84" height="13.74" fill="#7C7C7C"/>
<rect x="353.68" y="143.30" width="1.84" height="29.29" fill="#2A9B9A"/>
<rect x="356.11" y="188.40" width="1.84" height="84.50" fill="#AE2730"/>
<rect x="356.11" y="143.30" width="1.84" height="45.10" fill="#2A9B9A"/>
<rect x="358.54" y="189.44" width="1.84" height="83.46" fill="#AE2730"/>
<rect x="358.54" y="143.30" width="1.84" height="46.14" fill="#7C7C7C"/>
<rect x="360.96" y="190.99" width="1.84" height="81.91" fill="#AE2730"/>
<rect x="360.96" y="177.13" width="1.84" height="13.87" fill="#F39A30"/>
<rect x="360.96" y="143.30" width="1.84" height="33.83" fill="#2A9B9A"/>
<rect x="363.39" y="191.64" width="1.84" height="81.26" fill="#AE2730"/>
<rect x="363.39" y="181.40" width="1.84" height="10.24" fill="#7C7C7C"/>
<rect x="363.39" y="143.30" width="1.84" height="38.10" fill="#F39A30"/>
<rect x="365.82" y="191.64" width="1.84" height="81.26" fill="#AE2730"/>
<rect x="365.82" y="143.30" width="1.84" height="48.34" fill="#7C7C7C"/>
<rect x="368.24" y="191.90" width="1.84" height="81.00" fill="#AE2730"/>
<rect x="368.24" y="143.30" width="1.84" height="48.60" fill="#7C7C7C"/>
<rect x="370.67" y="192.16" width="1.84" height="80.74" fill="#AE2730"/>
<rect x="370.67" y="143.30" width="1.84" height="48.86" fill="#2A9B9A"/>
<rect x="373.10" y="193.20" width="1.84" height="79.70" fill="#AE2730"/>
<rect x="373.10" y="143.30" width="1.84" height="49.90" fill="#7C7C7C"/>
<rect x="375.52" y="193.71" width="1.84" height="79.19" fill="#AE2730"/>
<rect x="375.52" y="154.06" width="1.84" height="39.66" fill="#7C7C7C"/>
<rect x="375.52" y="143.30" width="1.84" height="10.76" fill="#F39A30"/>
<rect x="377.95" y="194.75" width="1.84" height="78.15" fill="#AE2730"/>
<rect x="377.95" y="156.78" width="1.84" height="37.97" fill="#F39A30"/>
<rect x="377.95" y="143.30" width="1.84" height="13.48" fill="#2A9B9A"/>
<rect x="380.38" y="198.51" width="1.84" height="74.39" fill="#AE2730"/>
<rect x="380.38" y="143.30" width="1.84" height="55.21" fill="#7C7C7C"/>
<rect x="382.80" y="203.95" width="1.84" height="68.95" fill="#AE2730"/>
<rect x="382.80" y="174.40" width="1.84" height="29.55" fill="#7C7C7C"/>
<rect x="382.80" y="156.78" width="1.84" height="17.63" fill="#F39A30"/>
<rect x="382.80" y="143.30" width="1.84" height="13.48" fill="#2A9B9A"/>
<rect x="385.23" y="203.95" width="1.84" height="68.95" fill="#AE2730"/>
<rect x="385.23" y="143.30" width="1.84" height="60.65" fill="#F39A30"/>
<rect x="387.66" y="204.47" width="1.84" height="68.43" fill="#AE2730"/>
<rect x="387.66" y="143.30" width="1.84" height="61.17" fill="#F39A30"/>
<rect x="390.08" y="204.47" width="1.84" height="68.43" fill="#AE2730"/>
<rect x="390.08" y="192.68" width="1.84" height="11.79" fill="#F39A30"/>
<rect x="390.08" y="143.30" width="1.84" height="49.38" fill="#2A9B9A"/>
<rect x="392.51" y="204.99" width="1.84" height="67.91" fill="#AE2730"/>
<rect x="392.51" y="143.30" width="1.84" height="61.69" fill="#F39A30"/>
<rect x="394.94" y="206.67" width="1.84" height="66.23" fill="#AE2730"/>
<rect x="394.94" y="188.92" width="1.84" height="17.76" fill="#7C7C7C"/>
<rect x="394.94" y="143.30" width="1.84" height="45.62" fill="#F39A30"/>
<rect x="397.36" y="207.19" width="1.84" height="65.71" fill="#AE2730"/>
<rect x="397.36" y="143.30" width="1.84" height="63.89" fill="#F39A30"/>
<rect x="399.79" y="207.71" width="1.84" height="65.19" fill="#AE2730"/>
<rect x="399.79" y="143.30" width="1.84" height="64.41" fill="#2A9B9A"/>
<rect x="402.22" y="208.75" width="1.84" height="64.15" fill="#AE2730"/>
<rect x="402.22" y="169.61" width="1.84" height="39.14" fill="#7C7C7C"/>
<rect x="402.22" y="143.30" width="1.84" height="26.31" fill="#F39A30"/>
<rect x="404.64" y="208.23" width="1.84" height="64.67" fill="#AE2730"/>
<rect x="404.64" y="143.30" width="1.84" height="64.93" fill="#F39A30"/>
<rect x="407.07" y="209.66" width="1.84" height="63.24" fill="#AE2730"/>
<rect x="407.07" y="163.91" width="1.84" height="45.75" fill="#7C7C7C"/>
<rect x="407.07" y="143.30" width="1.84" height="20.61" fill="#2A9B9A"/>
<rect x="409.50" y="210.30" width="1.84" height="62.60" fill="#AE2730"/>
<rect x="409.50" y="165.33" width="1.84" height="44.97" fill="#7C7C7C"/>
<rect x="409.50" y="143.30" width="1.84" height="22.03" fill="#2A9B9A"/>
<rect x="411.92" y="210.30" width="1.84" height="62.60" fill="#AE2730"/>
<rect x="411.92" y="169.61" width="1.84" height="40.69" fill="#7C7C7C"/>
<rect x="411.92" y="143.30" width="1.84" height="26.31" fill="#F39A30"/>
<rect x="414.35" y="211.08" width="1.84" height="61.82" fill="#AE2730"/>
<rect x="414.35" y="143.30" width="1.84" height="67.78" fill="#2A9B9A"/>
<rect x="416.78" y="211.73" width="1.84" height="61.17" fill="#AE2730"/>
<rect x="416.78" y="143.30" width="1.84" height="68.43" fill="#F39A30"/>
<rect x="419.20" y="212.51" width="1.84" height="60.39" fill="#AE2730"/>
<rect x="419.20" y="143.30" width="1.84" height="69.21" fill="#7C7C7C"/>
<rect x="421.63" y="214.58" width="1.84" height="58.32" fill="#AE2730"/>
<rect x="421.63" y="178.16" width="1.84" height="36.42" fill="#7C7C7C"/>
<rect x="421.63" y="143.30" width="1.84" height="34.86" fill="#2A9B9A"/>
<rect x="424.06" y="215.49" width="1.84" height="57.41" fill="#AE2730"/>
<rect x="424.06" y="143.30" width="1.84" height="72.19" fill="#7C7C7C"/>
<rect x="426.48" y="216.65" width="1.84" height="56.25" fill="#AE2730"/>
<rect x="426.48" y="186.72" width="1.84" height="29.94" fill="#7C7C7C"/>
<rect x="426.48" y="143.30" width="1.84" height="43.42" fill="#F39A30"/>
<rect x="428.91" y="217.43" width="1.84" height="55.47" fill="#AE2730"/>
<rect x="428.91" y="172.46" width="1.84" height="44.97" fill="#7C7C7C"/>
<rect x="428.91" y="153.93" width="1.84" height="18.53" fill="#F39A30"/>
<rect x="428.91" y="143.30" width="1.84" height="10.63" fill="#2A9B9A"/>
<rect x="431.34" y="218.08" width="1.84" height="54.82" fill="#AE2730"/>
<rect x="431.34" y="178.16" width="1.84" height="39.92" fill="#7C7C7C"/>
<rect x="431.34" y="143.30" width="1.84" height="34.86" fill="#F39A30"/>
<rect x="433.76" y="220.28" width="1.84" height="52.62" fill="#AE2730"/>
<rect x="433.76" y="195.27" width="1.84" height="25.01" fill="#7C7C7C"/>
<rect x="433.76" y="143.30" width="1.84" height="51.97" fill="#2A9B9A"/>
<rect x="436.19" y="222.49" width="1.84" height="50.41" fill="#AE2730"/>
<rect x="436.19" y="143.30" width="1.84" height="79.19" fill="#7C7C7C"/>
<rect x="438.62" y="222.49" width="1.84" height="50.41" fill="#AE2730"/>
<rect x="438.62" y="200.97" width="1.84" height="21.51" fill="#7C7C7C"/>
<rect x="438.62" y="143.30" width="1.84" height="57.67" fill="#2A9B9A"/>
<rect x="441.05" y="223.13" width="1.84" height="49.77" fill="#AE2730"/>
<rect x="441.05" y="198.25" width="1.84" height="24.88" fill="#F39A30"/>
<rect x="441.05" y="143.30" width="1.84" height="54.95" fill="#2A9B9A"/>
<rect x="443.47" y="223.91" width="1.84" height="48.99" fill="#AE2730"/>
<rect x="443.47" y="202.53" width="1.84" height="21.38" fill="#7C7C7C"/>
<rect x="443.47" y="181.66" width="1.84" height="20.87" fill="#F39A30"/>
<rect x="443.47" y="143.30" width="1.84" height="38.36" fill="#2A9B9A"/>
<rect x="445.90" y="224.56" width="1.84" height="48.34" fill="#AE2730"/>
<rect x="445.90" y="193.84" width="1.84" height="30.72" fill="#F39A30"/>
<rect x="445.90" y="143.30" width="1.84" height="50.54" fill="#2A9B9A"/>
<rect x="448.33" y="225.34" width="1.84" height="47.56" fill="#AE2730"/>
<rect x="448.33" y="176.74" width="1.84" height="48.60" fill="#7C7C7C"/>
<rect x="448.33" y="157.43" width="1.84" height="19.31" fill="#F39A30"/>
<rect x="448.33" y="143.30" width="1.84" height="14.13" fill="#2A9B9A"/>
<rect x="450.75" y="226.11" width="1.84" height="46.79" fill="#AE2730"/>
<rect x="450.75" y="184.77" width="1.84" height="41.34" fill="#7C7C7C"/>
<rect x="450.75" y="143.30" width="1.84" height="41.47" fill="#2A9B9A"/>
<rect x="453.18" y="226.50" width="1.84" height="46.40" fill="#AE2730"/>
<rect x="453.18" y="176.22" width="1.84" height="50.28" fill="#7C7C7C"/>
<rect x="453.18" y="143.30" width="1.84" height="32.92" fill="#F39A30"/>
<rect x="455.61" y="226.50" width="1.84" height="46.40" fill="#AE2730"/>
<rect x="455.61" y="143.30" width="1.84" height="83.20" fill="#7C7C7C"/>
<rect x="458.03" y="226.89" width="1.84" height="46.01" fill="#AE2730"/>
<rect x="458.03" y="206.54" width="1.84" height="20.35" fill="#7C7C7C"/>
<rect x="458.03" y="143.30" width="1.84" height="63.24" fill="#F39A30"/>
<rect x="460.46" y="226.89" width="1.84" height="46.01" fill="#AE2730"/>
<rect x="460.46" y="185.03" width="1.84" height="41.86" fill="#F39A30"/>
<rect x="460.46" y="143.30" width="1.84" height="41.73" fill="#2A9B9A"/>
<rect x="462.89" y="227.41" width="1.84" height="45.49" fill="#AE2730"/>
<rect x="462.89" y="192.42" width="1.84" height="34.99" fill="#7C7C7C"/>
<rect x="462.89" y="143.30" width="1.84" height="49.12" fill="#F39A30"/>
<rect x="465.31" y="228.32" width="1.84" height="44.58" fill="#AE2730"/>
<rect x="465.31" y="143.30" width="1.84" height="85.02" fill="#2A9B9A"/>
<rect x="467.74" y="228.84" width="1.84" height="44.06" fill="#AE2730"/>
<rect x="467.74" y="188.66" width="1.84" height="40.18" fill="#7C7C7C"/>
<rect x="467.74" y="166.89" width="1.84" height="21.77" fill="#F39A30"/>
<rect x="467.74" y="143.30" width="1.84" height="23.59" fill="#2A9B9A"/>
<rect x="470.17" y="229.22" width="1.84" height="43.68" fill="#AE2730"/>
<rect x="470.17" y="143.30" width="1.84" height="85.92" fill="#F39A30"/>
<rect x="472.59" y="229.74" width="1.84" height="43.16" fill="#AE2730"/>
<rect x="472.59" y="208.36" width="1.84" height="21.38" fill="#7C7C7C"/>
<rect x="472.59" y="143.30" width="1.84" height="65.06" fill="#F39A30"/>
<rect x="475.02" y="229.74" width="1.84" height="43.16" fill="#AE2730"/>
<rect x="475.02" y="207.97" width="1.84" height="21.77" fill="#F39A30"/>
<rect x="475.02" y="143.30" width="1.84" height="64.67" fill="#2A9B9A"/>
<rect x="477.45" y="235.70" width="1.84" height="37.20" fill="#AE2730"/>
<rect x="477.45" y="212.64" width="1.84" height="23.07" fill="#7C7C7C"/>
<rect x="477.45" y="143.30" width="1.84" height="69.34" fill="#F39A30"/>
<rect x="479.87" y="235.70" width="1.84" height="37.20" fill="#AE2730"/>
<rect x="479.87" y="190.47" width="1.84" height="45.23" fill="#7C7C7C"/>
<rect x="479.87" y="143.30" width="1.84" height="47.17" fill="#F39A30"/>
<rect x="482.30" y="238.56" width="1.84" height="34.34" fill="#AE2730"/>
<rect x="482.30" y="143.30" width="1.84" height="95.26" fill="#F39A30"/>
<rect x="484.73" y="239.46" width="1.84" height="33.44" fill="#AE2730"/>
<rect x="484.73" y="195.14" width="1.84" height="44.32" fill="#7C7C7C"/>
<rect x="484.73" y="143.30" width="1.84" height="51.84" fill="#2A9B9A"/>
<rect x="487.15" y="240.24" width="1.84" height="32.66" fill="#AE2730"/>
<rect x="487.15" y="220.41" width="1.84" height="19.83" fill="#F39A30"/>
<rect x="487.15" y="143.30" width="1.84" height="77.11" fill="#2A9B9A"/>
<rect x="489.58" y="241.67" width="1.84" height="31.23" fill="#AE2730"/>
<rect x="489.58" y="143.30" width="1.84" height="98.37" fill="#F39A30"/>
<rect x="492.01" y="242.18" width="1.84" height="30.72" fill="#AE2730"/>
<rect x="492.01" y="176.22" width="1.84" height="65.97" fill="#F39A30"/>
<rect x="492.01" y="143.30" width="1.84" height="32.92" fill="#2A9B9A"/>
<rect x="494.43" y="243.09" width="1.84" height="29.81" fill="#AE2730"/>
<rect x="494.43" y="187.75" width="1.84" height="55.34" fill="#7C7C7C"/>
<rect x="494.43" y="143.30" width="1.84" height="44.45" fill="#F39A30"/>
<rect x="496.86" y="244.52" width="1.84" height="28.38" fill="#AE2730"/>
<rect x="496.86" y="219.50" width="1.84" height="25.01" fill="#7C7C7C"/>
<rect x="496.86" y="181.27" width="1.84" height="38.23" fill="#F39A30"/>
<rect x="496.86" y="143.30" width="1.84" height="37.97" fill="#2A9B9A"/>
<rect x="499.29" y="244.52" width="1.84" height="28.38" fill="#AE2730"/>
<rect x="499.29" y="177.13" width="1.84" height="67.39" fill="#F39A30"/>
<rect x="499.29" y="143.30" width="1.84" height="33.83" fill="#2A9B9A"/>
<rect x="501.71" y="245.04" width="1.84" height="27.86" fill="#AE2730"/>
<rect x="501.71" y="191.51" width="1.84" height="53.52" fill="#7C7C7C"/>
<rect x="501.71" y="164.04" width="1.84" height="27.48" fill="#F39A30"/>
<rect x="501.71" y="143.30" width="1.84" height="20.74" fill="#2A9B9A"/>
<rect x="504.14" y="248.28" width="1.84" height="24.62" fill="#AE2730"/>
<rect x="504.14" y="213.54" width="1.84" height="34.73" fill="#7C7C7C"/>
<rect x="504.14" y="188.66" width="1.84" height="24.88" fill="#F39A30"/>
<rect x="504.14" y="143.30" width="1.84" height="45.36" fill="#2A9B9A"/>
<rect x="506.57" y="248.66" width="1.84" height="24.24" fill="#AE2730"/>
<rect x="506.57" y="208.10" width="1.84" height="40.56" fill="#7C7C7C"/>
<rect x="506.57" y="185.03" width="1.84" height="23.07" fill="#F39A30"/>
<rect x="506.57" y="143.30" width="1.84" height="41.73" fill="#2A9B9A"/>
<rect x="508.99" y="251.65" width="1.84" height="21.25" fill="#AE2730"/>
<rect x="508.99" y="166.50" width="1.84" height="85.15" fill="#F39A30"/>
<rect x="508.99" y="143.30" width="1.84" height="23.20" fill="#2A9B9A"/>
<rect x="511.42" y="252.68" width="1.84" height="20.22" fill="#AE2730"/>
<rect x="511.42" y="179.46" width="1.84" height="73.22" fill="#7C7C7C"/>
<rect x="511.42" y="143.30" width="1.84" height="36.16" fill="#F39A30"/>
<rect x="513.85" y="253.72" width="1.84" height="19.18" fill="#AE2730"/>
<rect x="513.85" y="143.30" width="1.84" height="110.42" fill="#2A9B9A"/>
<rect x="516.27" y="256.44" width="1.84" height="16.46" fill="#AE2730"/>
<rect x="516.27" y="230.65" width="1.84" height="25.79" fill="#7C7C7C"/>
<rect x="516.27" y="192.81" width="1.84" height="37.84" fill="#F39A30"/>
<rect x="516.27" y="143.30" width="1.84" height="49.51" fill="#2A9B9A"/>
<rect x="518.70" y="256.96" width="1.84" height="15.94" fill="#AE2730"/>
<rect x="518.70" y="229.61" width="1.84" height="27.35" fill="#7C7C7C"/>
<rect x="518.70" y="215.75" width="1.84" height="13.87" fill="#F39A30"/>
<rect x="518.70" y="143.30" width="1.84" height="72.45" fill="#2A9B9A"/>
<rect x="521.13" y="256.96" width="1.84" height="15.94" fill="#AE2730"/>
<rect x="521.13" y="216.65" width="1.84" height="40.31" fill="#7C7C7C"/>
<rect x="521.13" y="143.30" width="1.84" height="73.35" fill="#F39A30"/>
<rect x="523.55" y="258.00" width="1.84" height="14.90" fill="#AE2730"/>
<rect x="523.55" y="143.30" width="1.84" height="114.70" fill="#2A9B9A"/>
<rect x="525.98" y="258.00" width="1.84" height="14.90" fill="#AE2730"/>
<rect x="525.98" y="222.10" width="1.84" height="35.90" fill="#7C7C7C"/>
<rect x="525.98" y="152.63" width="1.84" height="69.47" fill="#F39A30"/>
<rect x="525.98" y="143.30" width="1.84" height="9.33" fill="#2A9B9A"/>
<rect x="528.41" y="258.51" width="1.84" height="14.39" fill="#AE2730"/>
<rect x="528.41" y="217.82" width="1.84" height="40.69" fill="#F39A30"/>
<rect x="528.41" y="143.30" width="1.84" height="74.52" fill="#2A9B9A"/>
<rect x="530.84" y="259.55" width="1.84" height="13.35" fill="#AE2730"/>
<rect x="530.84" y="239.20" width="1.84" height="20.35" fill="#7C7C7C"/>
<rect x="530.84" y="143.30" width="1.84" height="95.90" fill="#2A9B9A"/>
<rect x="533.26" y="261.75" width="1.84" height="11.15" fill="#AE2730"/>
<rect x="533.26" y="181.66" width="1.84" height="80.09" fill="#7C7C7C"/>
<rect x="533.26" y="154.06" width="1.84" height="27.60" fill="#F39A30"/>
<rect x="533.26" y="143.30" width="1.84" height="10.76" fill="#2A9B9A"/>
<rect x="535.69" y="193.84" width="1.84" height="79.06" fill="#7C7C7C"/>
<rect x="535.69" y="143.30" width="1.84" height="50.54" fill="#F39A30"/>
<rect x="538.12" y="235.45" width="1.84" height="37.45" fill="#7C7C7C"/>
<rect x="538.12" y="143.30" width="1.84" height="92.15" fill="#F39A30"/>
<rect x="540.54" y="256.44" width="1.84" height="16.46" fill="#7C7C7C"/>
<rect x="540.54" y="143.30" width="1.84" height="113.14" fill="#F39A30"/>
<rect x="542.97" y="180.75" width="1.84" height="92.15" fill="#7C7C7C"/>
<rect x="542.97" y="143.30" width="1.84" height="37.45" fill="#F39A30"/>
<rect x="545.40" y="214.58" width="1.84" height="58.32" fill="#7C7C7C"/>
<rect x="545.40" y="143.30" width="1.84" height="71.28" fill="#F39A30"/>
<rect x="547.82" y="143.30" width="1.84" height="129.60" fill="#7C7C7C"/>
<rect x="550.25" y="143.30" width="1.84" height="129.60" fill="#7C7C7C"/>
<rect x="552.68" y="215.75" width="1.84" height="57.15" fill="#7C7C7C"/>
<rect x="552.68" y="143.30" width="1.84" height="72.45" fill="#F39A30"/>
<rect x="555.10" y="143.30" width="1.84" height="129.60" fill="#F39A30"/>
<rect x="557.53" y="235.96" width="1.84" height="36.94" fill="#7C7C7C"/>
<rect x="557.53" y="143.30" width="1.84" height="92.66" fill="#F39A30"/>
<rect x="559.96" y="154.45" width="1.84" height="118.45" fill="#7C7C7C"/>
<rect x="559.96" y="143.30" width="1.84" height="11.15" fill="#F39A30"/>
<rect x="562.38" y="196.05" width="1.84" height="76.85" fill="#7C7C7C"/>
<rect x="562.38" y="143.30" width="1.84" height="52.75" fill="#F39A30"/>
<rect x="564.81" y="170.65" width="1.84" height="102.25" fill="#7C7C7C"/>
<rect x="564.81" y="143.30" width="1.84" height="27.35" fill="#F39A30"/>
<rect x="567.24" y="178.03" width="1.84" height="94.87" fill="#7C7C7C"/>
<rect x="567.24" y="143.30" width="1.84" height="34.73" fill="#F39A30"/>
<rect x="569.66" y="192.42" width="1.84" height="80.48" fill="#7C7C7C"/>
<rect x="569.66" y="143.30" width="1.84" height="49.12" fill="#F39A30"/>
<rect x="572.09" y="231.69" width="1.84" height="41.21" fill="#7C7C7C"/>
<rect x="572.09" y="143.30" width="1.84" height="88.39" fill="#F39A30"/>
<rect x="574.52" y="178.55" width="1.84" height="94.35" fill="#7C7C7C"/>
<rect x="574.52" y="143.30" width="1.84" height="35.25" fill="#F39A30"/>
<rect x="576.94" y="143.30" width="1.84" height="129.60" fill="#7C7C7C"/>
<rect x="579.37" y="143.30" width="1.84" height="129.60" fill="#7C7C7C"/>
<rect x="581.80" y="160.41" width="1.84" height="112.49" fill="#7C7C7C"/>
<rect x="581.80" y="143.30" width="1.84" height="17.11" fill="#F39A30"/>
<rect x="584.22" y="154.96" width="1.84" height="117.94" fill="#7C7C7C"/>
<rect x="584.22" y="143.30" width="1.84" height="11.66" fill="#2A9B9A"/>
<rect x="586.65" y="157.17" width="1.84" height="115.73" fill="#F39A30"/>
<rect x="586.65" y="143.30" width="1.84" height="13.87" fill="#2A9B9A"/>
<rect x="589.08" y="207.58" width="1.84" height="65.32" fill="#7C7C7C"/>
<rect x="589.08" y="158.59" width="1.84" height="48.99" fill="#F39A30"/>
<rect x="589.08" y="143.30" width="1.84" height="15.29" fill="#2A9B9A"/>
<rect x="591.50" y="214.58" width="1.84" height="58.32" fill="#7C7C7C"/>
<rect x="591.50" y="161.44" width="1.84" height="53.14" fill="#F39A30"/>
<rect x="591.50" y="143.30" width="1.84" height="18.14" fill="#2A9B9A"/>
<rect x="593.93" y="173.89" width="1.84" height="99.01" fill="#7C7C7C"/>
<rect x="593.93" y="143.30" width="1.84" height="30.59" fill="#2A9B9A"/>
<rect x="596.36" y="173.89" width="1.84" height="99.01" fill="#F39A30"/>
<rect x="596.36" y="143.30" width="1.84" height="30.59" fill="#2A9B9A"/>
<rect x="598.78" y="219.38" width="1.84" height="53.52" fill="#7C7C7C"/>
<rect x="598.78" y="181.27" width="1.84" height="38.10" fill="#F39A30"/>
<rect x="598.78" y="143.30" width="1.84" height="37.97" fill="#2A9B9A"/>
<rect x="601.21" y="184.51" width="1.84" height="88.39" fill="#F39A30"/>
<rect x="601.21" y="143.30" width="1.84" height="41.21" fill="#2A9B9A"/>
<rect x="603.64" y="190.47" width="1.84" height="82.43" fill="#7C7C7C"/>
<rect x="603.64" y="143.30" width="1.84" height="47.17" fill="#2A9B9A"/>
<rect x="606.06" y="256.44" width="1.84" height="16.46" fill="#7C7C7C"/>
<rect x="606.06" y="194.23" width="1.84" height="62.21" fill="#F39A30"/>
<rect x="606.06" y="143.30" width="1.84" height="50.93" fill="#2A9B9A"/>
<rect x="608.49" y="194.62" width="1.84" height="78.28" fill="#F39A30"/>
<rect x="608.49" y="143.30" width="1.84" height="51.32" fill="#2A9B9A"/>
<rect x="610.92" y="196.57" width="1.84" height="76.33" fill="#F39A30"/>
<rect x="610.92" y="143.30" width="1.84" height="53.27" fill="#2A9B9A"/>
<rect x="613.35" y="198.90" width="1.84" height="74.00" fill="#7C7C7C"/>
<rect x="613.35" y="143.30" width="1.84" height="55.60" fill="#2A9B9A"/>
<rect x="615.77" y="198.90" width="1.84" height="74.00" fill="#7C7C7C"/>
<rect x="615.77" y="143.30" width="1.84" height="55.60" fill="#2A9B9A"/>
<rect x="618.20" y="201.75" width="1.84" height="71.15" fill="#F39A30"/>
<rect x="618.20" y="143.30" width="1.84" height="58.45" fill="#2A9B9A"/>
<rect x="620.63" y="209.78" width="1.84" height="63.12" fill="#F39A30"/>
<rect x="620.63" y="143.30" width="1.84" height="66.48" fill="#2A9B9A"/>
<rect x="623.05" y="210.30" width="1.84" height="62.60" fill="#7C7C7C"/>
<rect x="623.05" y="143.30" width="1.84" height="67.00" fill="#2A9B9A"/>
<rect x="625.48" y="216.14" width="1.84" height="56.76" fill="#7C7C7C"/>
<rect x="625.48" y="143.30" width="1.84" height="72.84" fill="#2A9B9A"/>
<rect x="627.91" y="219.89" width="1.84" height="53.01" fill="#7C7C7C"/>
<rect x="627.91" y="143.30" width="1.84" height="76.59" fill="#2A9B9A"/>
<rect x="630.33" y="222.62" width="1.84" height="50.28" fill="#7C7C7C"/>
<rect x="630.33" y="143.30" width="1.84" height="79.32" fill="#2A9B9A"/>
<rect x="632.76" y="248.79" width="1.84" height="24.11" fill="#7C7C7C"/>
<rect x="632.76" y="224.82" width="1.84" height="23.98" fill="#F39A30"/>
<rect x="632.76" y="143.30" width="1.84" height="81.52" fill="#2A9B9A"/>
<rect x="635.19" y="232.21" width="1.84" height="40.69" fill="#7C7C7C"/>
<rect x="635.19" y="143.30" width="1.84" height="88.91" fill="#2A9B9A"/>
<rect x="637.61" y="261.75" width="1.84" height="11.15" fill="#7C7C7C"/>
<rect x="637.61" y="232.85" width="1.84" height="28.90" fill="#F39A30"/>
<rect x="637.61" y="143.30" width="1.84" height="89.55" fill="#2A9B9A"/>
<rect x="640.04" y="233.89" width="1.84" height="39.01" fill="#F39A30"/>
<rect x="640.04" y="143.30" width="1.84" height="90.59" fill="#2A9B9A"/>
<rect x="642.47" y="242.96" width="1.84" height="29.94" fill="#F39A30"/>
<rect x="642.47" y="143.30" width="1.84" height="99.66" fill="#2A9B9A"/>
<rect x="644.89" y="247.76" width="1.84" height="25.14" fill="#F39A30"/>
<rect x="644.89" y="143.30" width="1.84" height="104.46" fill="#2A9B9A"/>
<rect x="647.32" y="143.30" width="1.84" height="129.60" fill="#2A9B9A"/>
<rect x="649.75" y="143.30" width="1.84" height="129.60" fill="#2A9B9A"/>
<rect x="652.17" y="143.30" width="1.84" height="129.60" fill="#2A9B9A"/>
<line x1="310.0" y1="240.50" x2="654.6" y2="240.50" stroke="rgba(50,50,50,0.25)" stroke-width="0.8"/>
<line x1="310.0" y1="208.10" x2="654.6" y2="208.10" stroke="rgba(50,50,50,0.25)" stroke-width="0.8"/>
<line x1="310.0" y1="175.70" x2="654.6" y2="175.70" stroke="rgba(50,50,50,0.25)" stroke-width="0.8"/>
<line x1="310.0" y1="143.30" x2="654.6" y2="143.30" stroke="rgba(120,120,120,0.35)" stroke-width="0.6"/>
<line x1="309.0" y1="273.30" x2="654.8" y2="273.30" stroke="#333" stroke-width="1"/>
<text x="306.6" y="274.7" font-size="7.7" text-anchor="end" font-weight="400" fill="#222" >0%</text>
<line x1="308.20" y1="272.90" x2="310.00" y2="272.90" stroke="#444" stroke-width="0.7"/>
<text x="306.6" y="242.8" font-size="7.7" text-anchor="end" font-weight="400" fill="#222" >25%</text>
<line x1="308.20" y1="240.50" x2="310.00" y2="240.50" stroke="#444" stroke-width="0.7"/>
<text x="306.6" y="210.4" font-size="7.7" text-anchor="end" font-weight="400" fill="#222" >50%</text>
<line x1="308.20" y1="208.10" x2="310.00" y2="208.10" stroke="#444" stroke-width="0.7"/>
<text x="306.6" y="178.0" font-size="7.7" text-anchor="end" font-weight="400" fill="#222" >75%</text>
<line x1="308.20" y1="175.70" x2="310.00" y2="175.70" stroke="#444" stroke-width="0.7"/>
<text x="306.6" y="147.8" font-size="7.7" text-anchor="end" font-weight="400" fill="#222" >100%</text>
<line x1="308.20" y1="143.30" x2="310.00" y2="143.30" stroke="#444" stroke-width="0.7"/>
<text x="0" y="0" font-size="9.2" text-anchor="middle" font-weight="400" fill="#222" transform="translate(279.9,203.9) rotate(-90)">% of Visual Synaptic Inputs</text>
<text x="486" y="283.8" font-size="9.2" text-anchor="middle" font-weight="400" fill="#222" >KCγ-d's</text>
<rect x="659.3" y="231.90" width="7.7" height="7.7" rx="0.6" fill="#F7941D"/>
<text x="669.2" y="239.1" font-size="7.0" text-anchor="start" font-weight="400" fill="#222" >aMe</text>
<rect x="659.3" y="242.00" width="7.7" height="7.7" rx="0.6" fill="#BE1E2D"/>
<text x="669.2" y="249.2" font-size="7.0" text-anchor="start" font-weight="400" fill="#222" >Me</text>
<rect x="659.3" y="252.10" width="7.7" height="7.7" rx="0.6" fill="#0F9191"/>
<text x="669.2" y="259.3" font-size="7.0" text-anchor="start" font-weight="400" fill="#222" >Lo</text>
<rect x="659.3" y="262.20" width="7.7" height="7.7" rx="0.6" fill="#6B6B6B"/>
<text x="669.2" y="269.4" font-size="7.0" text-anchor="start" font-weight="400" fill="#222" >LVIN</text>
<text x="12.2" y="320.7" font-size="13.6" text-anchor="start" font-weight="700" fill="#111" >D</text>
<rect x="52" y="310.7" width="34.4" height="9.6" rx="3.2" fill="#F0922A"/>
<text x="88.2" y="318.6" font-size="8.1" text-anchor="start" font-weight="400" fill="#1a1a1a" >Accessory Medulla</text>
<rect x="168" y="310.7" width="33.7" height="9.6" rx="3.2" fill="#B81E2A"/>
<text x="205.6" y="318.6" font-size="8.1" text-anchor="start" font-weight="400" fill="#1a1a1a" >Medulla</text>
<rect x="249.9" y="310.7" width="33.7" height="9.6" rx="3.2" fill="#0B8A8A"/>
<text x="286.8" y="318.6" font-size="8.1" text-anchor="start" font-weight="400" fill="#1a1a1a" >Lobula</text>
<rect x="324.7" y="310.7" width="33.8" height="9.6" rx="3.2" fill="#000"/>
<text x="361.7" y="318.6" font-size="8.1" text-anchor="start" font-weight="400" fill="#1a1a1a" >LVIN</text>
<line x1="48.1" y1="360.12" x2="65" y2="360.12" stroke="#dcdcdc" stroke-width="1.1"/>
<line x1="65" y1="360.12" x2="373.9" y2="360.12" stroke="#c9c9c9" stroke-width="1.1"/>
<line x1="48.1" y1="364.57" x2="65" y2="364.57" stroke="#dcdcdc" stroke-width="1.1"/>
<line x1="65" y1="364.57" x2="373.9" y2="364.57" stroke="#c9c9c9" stroke-width="1.1"/>
<line x1="48.1" y1="391.27" x2="65" y2="391.27" stroke="#dcdcdc" stroke-width="1.1"/>
<line x1="65" y1="391.27" x2="373.9" y2="391.27" stroke="#c9c9c9" stroke-width="1.1"/>
<line x1="48.1" y1="395.73" x2="65" y2="395.73" stroke="#dcdcdc" stroke-width="1.1"/>
<line x1="65" y1="395.73" x2="373.9" y2="395.73" stroke="#c9c9c9" stroke-width="1.1"/>
<line x1="48.1" y1="400.18" x2="65" y2="400.18" stroke="#dcdcdc" stroke-width="1.1"/>
<line x1="65" y1="400.18" x2="373.9" y2="400.18" stroke="#c9c9c9" stroke-width="1.1"/>
<line x1="48.1" y1="404.62" x2="65" y2="404.62" stroke="#dcdcdc" stroke-width="1.1"/>
<line x1="65" y1="404.62" x2="373.9" y2="404.62" stroke="#c9c9c9" stroke-width="1.1"/>
<line x1="48.1" y1="409.07" x2="65" y2="409.07" stroke="#dcdcdc" stroke-width="1.1"/>
<line x1="65" y1="409.07" x2="373.9" y2="409.07" stroke="#c9c9c9" stroke-width="1.1"/>
<line x1="48.1" y1="422.43" x2="65" y2="422.43" stroke="#dcdcdc" stroke-width="1.1"/>
<line x1="65" y1="422.43" x2="373.9" y2="422.43" stroke="#c9c9c9" stroke-width="1.1"/>
<line x1="48.1" y1="426.88" x2="65" y2="426.88" stroke="#dcdcdc" stroke-width="1.1"/>
<line x1="65" y1="426.88" x2="373.9" y2="426.88" stroke="#c9c9c9" stroke-width="1.1"/>
<line x1="48.1" y1="431.32" x2="65" y2="431.32" stroke="#dcdcdc" stroke-width="1.1"/>
<line x1="65" y1="431.32" x2="373.9" y2="431.32" stroke="#c9c9c9" stroke-width="1.1"/>
<line x1="48.1" y1="435.77" x2="65" y2="435.77" stroke="#dcdcdc" stroke-width="1.1"/>
<line x1="65" y1="435.77" x2="373.9" y2="435.77" stroke="#c9c9c9" stroke-width="1.1"/>
<line x1="48.1" y1="440.23" x2="65" y2="440.23" stroke="#dcdcdc" stroke-width="1.1"/>
<line x1="65" y1="440.23" x2="373.9" y2="440.23" stroke="#c9c9c9" stroke-width="1.1"/>
<line x1="48.1" y1="444.68" x2="65" y2="444.68" stroke="#dcdcdc" stroke-width="1.1"/>
<line x1="65" y1="444.68" x2="373.9" y2="444.68" stroke="#c9c9c9" stroke-width="1.1"/>
<line x1="48.1" y1="449.12" x2="65" y2="449.12" stroke="#dcdcdc" stroke-width="1.1"/>
<line x1="65" y1="449.12" x2="373.9" y2="449.12" stroke="#c9c9c9" stroke-width="1.1"/>
<line x1="48.1" y1="453.57" x2="65" y2="453.57" stroke="#dcdcdc" stroke-width="1.1"/>
<line x1="65" y1="453.57" x2="373.9" y2="453.57" stroke="#c9c9c9" stroke-width="1.1"/>
<line x1="48.1" y1="458.02" x2="65" y2="458.02" stroke="#dcdcdc" stroke-width="1.1"/>
<line x1="65" y1="458.02" x2="373.9" y2="458.02" stroke="#c9c9c9" stroke-width="1.1"/>
<line x1="48.1" y1="462.48" x2="65" y2="462.48" stroke="#dcdcdc" stroke-width="1.1"/>
<line x1="65" y1="462.48" x2="373.9" y2="462.48" stroke="#c9c9c9" stroke-width="1.1"/>
<line x1="48.1" y1="466.92" x2="65" y2="466.92" stroke="#dcdcdc" stroke-width="1.1"/>
<line x1="65" y1="466.92" x2="373.9" y2="466.92" stroke="#c9c9c9" stroke-width="1.1"/>
<line x1="48.1" y1="471.38" x2="65" y2="471.38" stroke="#dcdcdc" stroke-width="1.1"/>
<line x1="65" y1="471.38" x2="373.9" y2="471.38" stroke="#c9c9c9" stroke-width="1.1"/>
<line x1="48.1" y1="475.82" x2="65" y2="475.82" stroke="#dcdcdc" stroke-width="1.1"/>
<line x1="65" y1="475.82" x2="373.9" y2="475.82" stroke="#c9c9c9" stroke-width="1.1"/>
<line x1="48.1" y1="480.27" x2="65" y2="480.27" stroke="#dcdcdc" stroke-width="1.1"/>
<line x1="65" y1="480.27" x2="373.9" y2="480.27" stroke="#c9c9c9" stroke-width="1.1"/>
<line x1="48.1" y1="484.73" x2="65" y2="484.73" stroke="#dcdcdc" stroke-width="1.1"/>
<line x1="65" y1="484.73" x2="373.9" y2="484.73" stroke="#c9c9c9" stroke-width="1.1"/>
<line x1="48.1" y1="489.17" x2="65" y2="489.17" stroke="#dcdcdc" stroke-width="1.1"/>
<line x1="65" y1="489.17" x2="373.9" y2="489.17" stroke="#c9c9c9" stroke-width="1.1"/>
<line x1="48.1" y1="493.62" x2="65" y2="493.62" stroke="#dcdcdc" stroke-width="1.1"/>
<line x1="65" y1="493.62" x2="373.9" y2="493.62" stroke="#c9c9c9" stroke-width="1.1"/>
<line x1="48.1" y1="498.07" x2="65" y2="498.07" stroke="#dcdcdc" stroke-width="1.1"/>
<line x1="65" y1="498.07" x2="373.9" y2="498.07" stroke="#c9c9c9" stroke-width="1.1"/>
<line x1="48.1" y1="502.52" x2="65" y2="502.52" stroke="#dcdcdc" stroke-width="1.1"/>
<line x1="65" y1="502.52" x2="373.9" y2="502.52" stroke="#c9c9c9" stroke-width="1.1"/>
<line x1="48.1" y1="506.98" x2="65" y2="506.98" stroke="#dcdcdc" stroke-width="1.1"/>
<line x1="65" y1="506.98" x2="373.9" y2="506.98" stroke="#c9c9c9" stroke-width="1.1"/>
<line x1="48.1" y1="511.42" x2="65" y2="511.42" stroke="#dcdcdc" stroke-width="1.1"/>
<line x1="65" y1="511.42" x2="373.9" y2="511.42" stroke="#c9c9c9" stroke-width="1.1"/>
<line x1="48.1" y1="515.88" x2="65" y2="515.88" stroke="#dcdcdc" stroke-width="1.1"/>
<line x1="65" y1="515.88" x2="373.9" y2="515.88" stroke="#c9c9c9" stroke-width="1.1"/>
<line x1="48.1" y1="524.77" x2="65" y2="524.77" stroke="#dcdcdc" stroke-width="1.1"/>
<line x1="65" y1="524.77" x2="373.9" y2="524.77" stroke="#c9c9c9" stroke-width="1.1"/>
<line x1="48.1" y1="529.23" x2="65" y2="529.23" stroke="#dcdcdc" stroke-width="1.1"/>
<line x1="65" y1="529.23" x2="373.9" y2="529.23" stroke="#c9c9c9" stroke-width="1.1"/>
<line x1="48.1" y1="533.67" x2="65" y2="533.67" stroke="#dcdcdc" stroke-width="1.1"/>
<line x1="65" y1="533.67" x2="373.9" y2="533.67" stroke="#c9c9c9" stroke-width="1.1"/>
<line x1="48.1" y1="538.12" x2="65" y2="538.12" stroke="#dcdcdc" stroke-width="1.1"/>
<line x1="65" y1="538.12" x2="373.9" y2="538.12" stroke="#c9c9c9" stroke-width="1.1"/>
<line x1="48.1" y1="542.58" x2="65" y2="542.58" stroke="#dcdcdc" stroke-width="1.1"/>
<line x1="65" y1="542.58" x2="373.9" y2="542.58" stroke="#c9c9c9" stroke-width="1.1"/>
<line x1="48.1" y1="547.02" x2="65" y2="547.02" stroke="#dcdcdc" stroke-width="1.1"/>
<line x1="65" y1="547.02" x2="373.9" y2="547.02" stroke="#c9c9c9" stroke-width="1.1"/>
<line x1="48.1" y1="551.48" x2="65" y2="551.48" stroke="#dcdcdc" stroke-width="1.1"/>
<line x1="65" y1="551.48" x2="373.9" y2="551.48" stroke="#c9c9c9" stroke-width="1.1"/>
<line x1="48.1" y1="560.38" x2="65" y2="560.38" stroke="#dcdcdc" stroke-width="1.1"/>
<line x1="65" y1="560.38" x2="373.9" y2="560.38" stroke="#c9c9c9" stroke-width="1.1"/>
<line x1="48.1" y1="564.83" x2="65" y2="564.83" stroke="#dcdcdc" stroke-width="1.1"/>
<line x1="65" y1="564.83" x2="373.9" y2="564.83" stroke="#c9c9c9" stroke-width="1.1"/>
<line x1="48.1" y1="573.73" x2="65" y2="573.73" stroke="#dcdcdc" stroke-width="1.1"/>
<line x1="65" y1="573.73" x2="373.9" y2="573.73" stroke="#c9c9c9" stroke-width="1.1"/>
<line x1="48.1" y1="578.17" x2="65" y2="578.17" stroke="#dcdcdc" stroke-width="1.1"/>
<line x1="65" y1="578.17" x2="373.9" y2="578.17" stroke="#c9c9c9" stroke-width="1.1"/>
<line x1="48.1" y1="587.08" x2="65" y2="587.08" stroke="#dcdcdc" stroke-width="1.1"/>
<line x1="65" y1="587.08" x2="373.9" y2="587.08" stroke="#c9c9c9" stroke-width="1.1"/>
<line x1="48.1" y1="591.52" x2="65" y2="591.52" stroke="#dcdcdc" stroke-width="1.1"/>
<line x1="65" y1="591.52" x2="373.9" y2="591.52" stroke="#c9c9c9" stroke-width="1.1"/>
<line x1="48.1" y1="600.42" x2="65" y2="600.42" stroke="#dcdcdc" stroke-width="1.1"/>
<line x1="65" y1="600.42" x2="373.9" y2="600.42" stroke="#c9c9c9" stroke-width="1.1"/>
<line x1="48.1" y1="604.88" x2="65" y2="604.88" stroke="#dcdcdc" stroke-width="1.1"/>
<line x1="65" y1="604.88" x2="373.9" y2="604.88" stroke="#c9c9c9" stroke-width="1.1"/>
<line x1="48.1" y1="609.33" x2="65" y2="609.33" stroke="#dcdcdc" stroke-width="1.1"/>
<line x1="65" y1="609.33" x2="373.9" y2="609.33" stroke="#c9c9c9" stroke-width="1.1"/>
<line x1="48.1" y1="613.77" x2="65" y2="613.77" stroke="#dcdcdc" stroke-width="1.1"/>
<line x1="65" y1="613.77" x2="373.9" y2="613.77" stroke="#c9c9c9" stroke-width="1.1"/>
<line x1="48.1" y1="622.67" x2="65" y2="622.67" stroke="#dcdcdc" stroke-width="1.1"/>
<line x1="65" y1="622.67" x2="373.9" y2="622.67" stroke="#c9c9c9" stroke-width="1.1"/>
<line x1="48.1" y1="627.12" x2="65" y2="627.12" stroke="#dcdcdc" stroke-width="1.1"/>
<line x1="65" y1="627.12" x2="373.9" y2="627.12" stroke="#c9c9c9" stroke-width="1.1"/>
<line x1="48.1" y1="631.58" x2="65" y2="631.58" stroke="#dcdcdc" stroke-width="1.1"/>
<line x1="65" y1="631.58" x2="373.9" y2="631.58" stroke="#c9c9c9" stroke-width="1.1"/>
<line x1="48.1" y1="636.02" x2="65" y2="636.02" stroke="#dcdcdc" stroke-width="1.1"/>
<line x1="65" y1="636.02" x2="373.9" y2="636.02" stroke="#c9c9c9" stroke-width="1.1"/>
<line x1="48.1" y1="640.48" x2="65" y2="640.48" stroke="#dcdcdc" stroke-width="1.1"/>
<line x1="65" y1="640.48" x2="373.9" y2="640.48" stroke="#c9c9c9" stroke-width="1.1"/>
<line x1="48.1" y1="644.92" x2="65" y2="644.92" stroke="#dcdcdc" stroke-width="1.1"/>
<line x1="65" y1="644.92" x2="373.9" y2="644.92" stroke="#c9c9c9" stroke-width="1.1"/>
<line x1="48.1" y1="649.38" x2="65" y2="649.38" stroke="#dcdcdc" stroke-width="1.1"/>
<line x1="65" y1="649.38" x2="373.9" y2="649.38" stroke="#c9c9c9" stroke-width="1.1"/>
<line x1="48.1" y1="653.83" x2="65" y2="653.83" stroke="#dcdcdc" stroke-width="1.1"/>
<line x1="65" y1="653.83" x2="373.9" y2="653.83" stroke="#c9c9c9" stroke-width="1.1"/>
<line x1="48.1" y1="658.27" x2="65" y2="658.27" stroke="#dcdcdc" stroke-width="1.1"/>
<line x1="65" y1="658.27" x2="373.9" y2="658.27" stroke="#c9c9c9" stroke-width="1.1"/>
<line x1="48.1" y1="662.73" x2="65" y2="662.73" stroke="#dcdcdc" stroke-width="1.1"/>
<line x1="65" y1="662.73" x2="373.9" y2="662.73" stroke="#c9c9c9" stroke-width="1.1"/>
<line x1="48.1" y1="667.17" x2="65" y2="667.17" stroke="#dcdcdc" stroke-width="1.1"/>
<line x1="65" y1="667.17" x2="373.9" y2="667.17" stroke="#c9c9c9" stroke-width="1.1"/>
<line x1="48.1" y1="671.62" x2="65" y2="671.62" stroke="#dcdcdc" stroke-width="1.1"/>
<line x1="65" y1="671.62" x2="373.9" y2="671.62" stroke="#c9c9c9" stroke-width="1.1"/>
<line x1="48.1" y1="676.08" x2="65" y2="676.08" stroke="#dcdcdc" stroke-width="1.1"/>
<line x1="65" y1="676.08" x2="373.9" y2="676.08" stroke="#c9c9c9" stroke-width="1.1"/>
<rect x="70.48" y="328.97" width="2.11" height="4.45" fill="#F4BE74"/>
<rect x="77.17" y="328.97" width="2.11" height="4.45" fill="#F0A038"/>
<rect x="81.63" y="328.97" width="2.11" height="4.45" fill="#F4BE74"/>
<rect x="92.79" y="328.97" width="2.11" height="4.45" fill="#F0A038"/>
<rect x="95.02" y="328.97" width="2.11" height="4.45" fill="#F0A038"/>
<rect x="159.74" y="328.97" width="2.11" height="4.45" fill="#F4BE74"/>
<rect x="173.12" y="328.97" width="2.11" height="4.45" fill="#F0A038"/>
<rect x="184.28" y="328.97" width="2.11" height="4.45" fill="#F0A038"/>
<rect x="186.51" y="328.97" width="2.11" height="4.45" fill="#F0A038"/>
<rect x="204.37" y="328.97" width="2.11" height="4.45" fill="#F0A038"/>
<rect x="244.53" y="328.97" width="2.11" height="4.45" fill="#F0A038"/>
<rect x="249.00" y="328.97" width="2.11" height="4.45" fill="#F0A038"/>
<rect x="257.92" y="328.97" width="2.11" height="4.45" fill="#F0A038"/>
<rect x="260.15" y="328.97" width="2.11" height="4.45" fill="#F0A038"/>
<rect x="264.62" y="328.97" width="2.11" height="4.45" fill="#F0A038"/>
<rect x="286.93" y="328.97" width="2.11" height="4.45" fill="#F0A038"/>
<rect x="291.39" y="328.97" width="2.11" height="4.45" fill="#F0A038"/>
<rect x="293.63" y="328.97" width="2.11" height="4.45" fill="#F0A038"/>
<rect x="298.09" y="328.97" width="2.11" height="4.45" fill="#F0A038"/>
<rect x="311.48" y="328.97" width="2.11" height="4.45" fill="#F0A038"/>
<rect x="320.40" y="328.97" width="2.11" height="4.45" fill="#F0A038"/>
<rect x="322.64" y="328.97" width="2.11" height="4.45" fill="#F0A038"/>
<rect x="338.26" y="328.97" width="2.11" height="4.45" fill="#F0A038"/>
<rect x="353.88" y="328.97" width="2.11" height="4.45" fill="#F0A038"/>
<rect x="356.11" y="328.97" width="2.11" height="4.45" fill="#F0A038"/>
<rect x="63.78" y="333.42" width="2.11" height="4.45" fill="#F0A038"/>
<rect x="70.48" y="333.42" width="2.11" height="4.45" fill="#F4BE74"/>
<rect x="81.63" y="333.42" width="2.11" height="4.45" fill="#F4BE74"/>
<rect x="101.72" y="333.42" width="2.11" height="4.45" fill="#F0A038"/>
<rect x="112.87" y="333.42" width="2.11" height="4.45" fill="#F0A038"/>
<rect x="117.34" y="333.42" width="2.11" height="4.45" fill="#F0A038"/>
<rect x="130.73" y="333.42" width="2.11" height="4.45" fill="#F0A038"/>
<rect x="132.96" y="333.42" width="2.11" height="4.45" fill="#F0A038"/>
<rect x="159.74" y="333.42" width="2.11" height="4.45" fill="#F4BE74"/>
<rect x="197.67" y="333.42" width="2.11" height="4.45" fill="#F0A038"/>
<rect x="213.29" y="333.42" width="2.11" height="4.45" fill="#F0A038"/>
<rect x="249.00" y="333.42" width="2.11" height="4.45" fill="#F0A038"/>
<rect x="295.86" y="333.42" width="2.11" height="4.45" fill="#F0A038"/>
<rect x="313.71" y="333.42" width="2.11" height="4.45" fill="#F0A038"/>
<rect x="342.72" y="333.42" width="2.11" height="4.45" fill="#F0A038"/>
<rect x="349.41" y="333.42" width="2.11" height="4.45" fill="#F0A038"/>
<rect x="358.34" y="333.42" width="2.11" height="4.45" fill="#F0A038"/>
<rect x="48.16" y="337.87" width="2.11" height="4.45" fill="#F0A038"/>
<rect x="52.62" y="337.87" width="2.11" height="4.45" fill="#F0A038"/>
<rect x="70.48" y="337.87" width="2.11" height="4.45" fill="#F4BE74"/>
<rect x="81.63" y="337.87" width="2.11" height="4.45" fill="#F4BE74"/>
<rect x="119.57" y="337.87" width="2.11" height="4.45" fill="#F0A038"/>
<rect x="139.65" y="337.87" width="2.11" height="4.45" fill="#F0A038"/>
<rect x="153.04" y="337.87" width="2.11" height="4.45" fill="#F0A038"/>
<rect x="159.74" y="337.87" width="2.11" height="4.45" fill="#F4BE74"/>
<rect x="182.05" y="337.87" width="2.11" height="4.45" fill="#F0A038"/>
<rect x="195.44" y="337.87" width="2.11" height="4.45" fill="#F0A038"/>
<rect x="233.38" y="337.87" width="2.11" height="4.45" fill="#F0A038"/>
<rect x="246.76" y="337.87" width="2.11" height="4.45" fill="#F0A038"/>
<rect x="273.54" y="337.87" width="2.11" height="4.45" fill="#F0A038"/>
<rect x="329.33" y="337.87" width="2.11" height="4.45" fill="#F0A038"/>
<rect x="344.95" y="337.87" width="2.11" height="4.45" fill="#F0A038"/>
<rect x="356.11" y="337.87" width="2.11" height="4.45" fill="#F0A038"/>
<rect x="103.95" y="342.32" width="2.11" height="4.45" fill="#F0A038"/>
<rect x="213.29" y="342.32" width="2.11" height="4.45" fill="#F0A038"/>
<rect x="215.52" y="342.32" width="2.11" height="4.45" fill="#F0A038"/>
<rect x="269.08" y="342.32" width="2.11" height="4.45" fill="#F0A038"/>
<rect x="79.40" y="346.77" width="2.11" height="4.45" fill="#F0A038"/>
<rect x="148.58" y="346.77" width="2.11" height="4.45" fill="#F0A038"/>
<rect x="369.50" y="346.77" width="2.11" height="4.45" fill="#F0A038"/>
<rect x="97.25" y="351.22" width="2.11" height="4.45" fill="#F0A038"/>
<rect x="193.21" y="351.22" width="2.11" height="4.45" fill="#F0A038"/>
<rect x="99.48" y="355.67" width="2.11" height="4.45" fill="#F0A038"/>
<rect x="70.48" y="355.67" width="2.11" height="4.45" fill="#F0A038"/>
<rect x="72.71" y="355.67" width="2.11" height="4.45" fill="#F0A038"/>
<rect x="74.94" y="355.67" width="2.11" height="4.45" fill="#F0A038"/>
<rect x="79.40" y="355.67" width="2.11" height="4.45" fill="#F0A038"/>
<rect x="81.63" y="355.67" width="2.11" height="4.45" fill="#F0A038"/>
<rect x="83.86" y="355.67" width="2.11" height="4.45" fill="#F0A038"/>
<rect x="146.35" y="355.67" width="2.11" height="4.45" fill="#F0A038"/>
<rect x="148.58" y="355.67" width="2.11" height="4.45" fill="#F0A038"/>
<rect x="155.27" y="355.67" width="2.11" height="4.45" fill="#F0A038"/>
<rect x="173.12" y="355.67" width="2.11" height="4.45" fill="#F0A038"/>
<rect x="177.59" y="355.67" width="2.11" height="4.45" fill="#F0A038"/>
<rect x="193.21" y="355.67" width="2.11" height="4.45" fill="#F0A038"/>
<rect x="197.67" y="355.67" width="2.11" height="4.45" fill="#F0A038"/>
<rect x="251.23" y="355.67" width="2.11" height="4.45" fill="#F0A038"/>
<rect x="255.69" y="355.67" width="2.11" height="4.45" fill="#F0A038"/>
<rect x="286.93" y="355.67" width="2.11" height="4.45" fill="#F0A038"/>
<rect x="291.39" y="355.67" width="2.11" height="4.45" fill="#F0A038"/>
<rect x="313.71" y="355.67" width="2.11" height="4.45" fill="#F0A038"/>
<rect x="322.64" y="355.67" width="2.11" height="4.45" fill="#F0A038"/>
<rect x="327.10" y="355.67" width="2.11" height="4.45" fill="#F0A038"/>
<rect x="331.56" y="355.67" width="2.11" height="4.45" fill="#F0A038"/>
<rect x="356.11" y="355.67" width="2.11" height="4.45" fill="#F0A038"/>
<rect x="369.50" y="355.67" width="2.11" height="4.45" fill="#F0A038"/>
<rect x="48.16" y="360.12" width="2.11" height="4.45" fill="#F0A038"/>
<rect x="50.39" y="360.12" width="2.11" height="4.45" fill="#F0A038"/>
<rect x="54.85" y="360.12" width="2.11" height="4.45" fill="#F0A038"/>
<rect x="59.32" y="360.12" width="2.11" height="4.45" fill="#F0A038"/>
<rect x="86.10" y="360.12" width="2.11" height="4.45" fill="#F0A038"/>
<rect x="103.95" y="360.12" width="2.11" height="4.45" fill="#F0A038"/>
<rect x="110.64" y="360.12" width="2.11" height="4.45" fill="#F0A038"/>
<rect x="115.11" y="360.12" width="2.11" height="4.45" fill="#F0A038"/>
<rect x="137.42" y="360.12" width="2.11" height="4.45" fill="#F0A038"/>
<rect x="150.81" y="360.12" width="2.11" height="4.45" fill="#F0A038"/>
<rect x="155.27" y="360.12" width="2.11" height="4.45" fill="#F0A038"/>
<rect x="159.74" y="360.12" width="2.11" height="4.45" fill="#F0A038"/>
<rect x="202.13" y="360.12" width="2.11" height="4.45" fill="#F0A038"/>
<rect x="235.61" y="360.12" width="2.11" height="4.45" fill="#F0A038"/>
<rect x="237.84" y="360.12" width="2.11" height="4.45" fill="#F0A038"/>
<rect x="251.23" y="360.12" width="2.11" height="4.45" fill="#F0A038"/>
<rect x="264.62" y="360.12" width="2.11" height="4.45" fill="#F0A038"/>
<rect x="269.08" y="360.12" width="2.11" height="4.45" fill="#F0A038"/>
<rect x="273.54" y="360.12" width="2.11" height="4.45" fill="#F0A038"/>
<rect x="284.70" y="360.12" width="2.11" height="4.45" fill="#F0A038"/>
<rect x="309.25" y="360.12" width="2.11" height="4.45" fill="#F0A038"/>
<rect x="324.87" y="360.12" width="2.11" height="4.45" fill="#F0A038"/>
<rect x="327.10" y="360.12" width="2.11" height="4.45" fill="#F0A038"/>
<rect x="101.72" y="364.57" width="2.11" height="4.45" fill="#F0A038"/>
<rect x="322.64" y="364.57" width="2.11" height="4.45" fill="#F0A038"/>
<rect x="144.11" y="369.02" width="2.11" height="4.45" fill="#F0A038"/>
<rect x="246.76" y="373.47" width="2.11" height="4.45" fill="#F0A038"/>
<rect x="128.49" y="377.92" width="2.11" height="4.45" fill="#F0A038"/>
<rect x="237.84" y="382.38" width="2.11" height="4.45" fill="#F0A038"/>
<rect x="278.01" y="382.38" width="2.11" height="4.45" fill="#F0A038"/>
<rect x="159.74" y="386.82" width="2.11" height="4.45" fill="#F0A038"/>
<rect x="262.38" y="386.82" width="2.11" height="4.45" fill="#F0A038"/>
<rect x="298.09" y="386.82" width="2.11" height="4.45" fill="#F0A038"/>
<rect x="315.94" y="386.82" width="2.11" height="4.45" fill="#F0A038"/>
<rect x="347.18" y="391.27" width="2.11" height="4.45" fill="#C42A33"/>
<rect x="184.28" y="395.72" width="2.11" height="4.45" fill="#C42A33"/>
<rect x="293.63" y="400.17" width="2.11" height="4.45" fill="#D97A80"/>
<rect x="117.34" y="404.62" width="2.11" height="4.45" fill="#AD1820"/>
<rect x="103.95" y="409.07" width="2.11" height="4.45" fill="#D97A80"/>
<rect x="186.51" y="409.07" width="2.11" height="4.45" fill="#C42A33"/>
<rect x="356.11" y="409.07" width="2.11" height="4.45" fill="#C42A33"/>
<rect x="159.74" y="413.52" width="2.11" height="4.45" fill="#C42A33"/>
<rect x="282.47" y="413.52" width="2.11" height="4.45" fill="#D97A80"/>
<rect x="146.35" y="417.97" width="2.11" height="4.45" fill="#C42A33"/>
<rect x="168.66" y="417.97" width="2.11" height="4.45" fill="#C42A33"/>
<rect x="356.11" y="417.97" width="2.11" height="4.45" fill="#C42A33"/>
<rect x="66.01" y="422.42" width="2.11" height="4.45" fill="#C42A33"/>
<rect x="101.72" y="422.42" width="2.11" height="4.45" fill="#C42A33"/>
<rect x="128.49" y="422.42" width="2.11" height="4.45" fill="#C42A33"/>
<rect x="211.06" y="422.42" width="2.11" height="4.45" fill="#C42A33"/>
<rect x="255.69" y="422.42" width="2.11" height="4.45" fill="#C42A33"/>
<rect x="362.80" y="422.42" width="2.11" height="4.45" fill="#C42A33"/>
<rect x="63.78" y="426.88" width="2.11" height="4.45" fill="#AD1820"/>
<rect x="66.01" y="426.88" width="2.11" height="4.45" fill="#AD1820"/>
<rect x="117.34" y="426.88" width="2.11" height="4.45" fill="#D97A80"/>
<rect x="215.52" y="426.88" width="2.11" height="4.45" fill="#C42A33"/>
<rect x="311.48" y="426.88" width="2.11" height="4.45" fill="#AD1820"/>
<rect x="70.48" y="431.32" width="2.11" height="4.45" fill="#C42A33"/>
<rect x="369.50" y="431.32" width="2.11" height="4.45" fill="#D97A80"/>
<rect x="371.73" y="431.32" width="2.11" height="4.45" fill="#D97A80"/>
<rect x="126.26" y="435.77" width="2.11" height="4.45" fill="#AD1820"/>
<rect x="164.20" y="435.77" width="2.11" height="4.45" fill="#C42A33"/>
<rect x="190.98" y="435.77" width="2.11" height="4.45" fill="#C42A33"/>
<rect x="244.53" y="435.77" width="2.11" height="4.45" fill="#C42A33"/>
<rect x="148.58" y="440.22" width="2.11" height="4.45" fill="#C42A33"/>
<rect x="59.32" y="444.67" width="2.11" height="4.45" fill="#C42A33"/>
<rect x="166.43" y="444.67" width="2.11" height="4.45" fill="#C42A33"/>
<rect x="182.05" y="444.67" width="2.11" height="4.45" fill="#C42A33"/>
<rect x="224.45" y="444.67" width="2.11" height="4.45" fill="#C42A33"/>
<rect x="333.79" y="444.67" width="2.11" height="4.45" fill="#C42A33"/>
<rect x="360.57" y="444.67" width="2.11" height="4.45" fill="#C42A33"/>
<rect x="59.32" y="449.12" width="2.11" height="4.45" fill="#C42A33"/>
<rect x="68.24" y="449.12" width="2.11" height="4.45" fill="#C42A33"/>
<rect x="79.40" y="449.12" width="2.11" height="4.45" fill="#C42A33"/>
<rect x="81.63" y="449.12" width="2.11" height="4.45" fill="#C42A33"/>
<rect x="121.80" y="449.12" width="2.11" height="4.45" fill="#C42A33"/>
<rect x="139.65" y="449.12" width="2.11" height="4.45" fill="#C42A33"/>
<rect x="150.81" y="449.12" width="2.11" height="4.45" fill="#C42A33"/>
<rect x="153.04" y="449.12" width="2.11" height="4.45" fill="#C42A33"/>
<rect x="164.20" y="449.12" width="2.11" height="4.45" fill="#C42A33"/>
<rect x="170.89" y="449.12" width="2.11" height="4.45" fill="#C42A33"/>
<rect x="177.59" y="449.12" width="2.11" height="4.45" fill="#C42A33"/>
<rect x="179.82" y="449.12" width="2.11" height="4.45" fill="#C42A33"/>
<rect x="184.28" y="449.12" width="2.11" height="4.45" fill="#C42A33"/>
<rect x="190.98" y="449.12" width="2.11" height="4.45" fill="#C42A33"/>
<rect x="204.37" y="449.12" width="2.11" height="4.45" fill="#C42A33"/>
<rect x="219.99" y="449.12" width="2.11" height="4.45" fill="#C42A33"/>
<rect x="224.45" y="449.12" width="2.11" height="4.45" fill="#C42A33"/>
<rect x="228.91" y="449.12" width="2.11" height="4.45" fill="#C42A33"/>
<rect x="231.14" y="449.12" width="2.11" height="4.45" fill="#C42A33"/>
<rect x="240.07" y="449.12" width="2.11" height="4.45" fill="#C42A33"/>
<rect x="257.92" y="449.12" width="2.11" height="4.45" fill="#C42A33"/>
<rect x="278.01" y="449.12" width="2.11" height="4.45" fill="#C42A33"/>
<rect x="289.16" y="449.12" width="2.11" height="4.45" fill="#C42A33"/>
<rect x="295.86" y="449.12" width="2.11" height="4.45" fill="#C42A33"/>
<rect x="309.25" y="449.12" width="2.11" height="4.45" fill="#C42A33"/>
<rect x="313.71" y="449.12" width="2.11" height="4.45" fill="#C42A33"/>
<rect x="318.17" y="449.12" width="2.11" height="4.45" fill="#C42A33"/>
<rect x="331.56" y="449.12" width="2.11" height="4.45" fill="#C42A33"/>
<rect x="336.02" y="449.12" width="2.11" height="4.45" fill="#C42A33"/>
<rect x="338.26" y="449.12" width="2.11" height="4.45" fill="#C42A33"/>
<rect x="347.18" y="449.12" width="2.11" height="4.45" fill="#C42A33"/>
<rect x="360.57" y="449.12" width="2.11" height="4.45" fill="#C42A33"/>
<rect x="362.80" y="449.12" width="2.11" height="4.45" fill="#C42A33"/>
<rect x="50.39" y="453.57" width="2.11" height="4.45" fill="#C42A33"/>
<rect x="54.85" y="453.57" width="2.11" height="4.45" fill="#C42A33"/>
<rect x="57.09" y="453.57" width="2.11" height="4.45" fill="#C42A33"/>
<rect x="61.55" y="453.57" width="2.11" height="4.45" fill="#C42A33"/>
<rect x="66.01" y="453.57" width="2.11" height="4.45" fill="#C42A33"/>
<rect x="68.24" y="453.57" width="2.11" height="4.45" fill="#C42A33"/>
<rect x="70.48" y="453.57" width="2.11" height="4.45" fill="#C42A33"/>
<rect x="72.71" y="453.57" width="2.11" height="4.45" fill="#C42A33"/>
<rect x="74.94" y="453.57" width="2.11" height="4.45" fill="#C42A33"/>
<rect x="77.17" y="453.57" width="2.11" height="4.45" fill="#C42A33"/>
<rect x="79.40" y="453.57" width="2.11" height="4.45" fill="#C42A33"/>
<rect x="86.10" y="453.57" width="2.11" height="4.45" fill="#C42A33"/>
<rect x="88.33" y="453.57" width="2.11" height="4.45" fill="#C42A33"/>
<rect x="90.56" y="453.57" width="2.11" height="4.45" fill="#C42A33"/>
<rect x="92.79" y="453.57" width="2.11" height="4.45" fill="#C42A33"/>
<rect x="95.02" y="453.57" width="2.11" height="4.45" fill="#C42A33"/>
<rect x="97.25" y="453.57" width="2.11" height="4.45" fill="#C42A33"/>
<rect x="101.72" y="453.57" width="2.11" height="4.45" fill="#C42A33"/>
<rect x="106.18" y="453.57" width="2.11" height="4.45" fill="#C42A33"/>
<rect x="108.41" y="453.57" width="2.11" height="4.45" fill="#C42A33"/>
<rect x="110.64" y="453.57" width="2.11" height="4.45" fill="#C42A33"/>
<rect x="112.87" y="453.57" width="2.11" height="4.45" fill="#C42A33"/>
<rect x="115.11" y="453.57" width="2.11" height="4.45" fill="#C42A33"/>
<rect x="119.57" y="453.57" width="2.11" height="4.45" fill="#C42A33"/>
<rect x="121.80" y="453.57" width="2.11" height="4.45" fill="#C42A33"/>
<rect x="124.03" y="453.57" width="2.11" height="4.45" fill="#C42A33"/>
<rect x="126.26" y="453.57" width="2.11" height="4.45" fill="#C42A33"/>
<rect x="128.49" y="453.57" width="2.11" height="4.45" fill="#C42A33"/>
<rect x="130.73" y="453.57" width="2.11" height="4.45" fill="#C42A33"/>
<rect x="132.96" y="453.57" width="2.11" height="4.45" fill="#C42A33"/>
<rect x="135.19" y="453.57" width="2.11" height="4.45" fill="#C42A33"/>
<rect x="137.42" y="453.57" width="2.11" height="4.45" fill="#C42A33"/>
<rect x="139.65" y="453.57" width="2.11" height="4.45" fill="#C42A33"/>
<rect x="141.88" y="453.57" width="2.11" height="4.45" fill="#C42A33"/>
<rect x="340.49" y="458.02" width="2.11" height="4.45" fill="#C42A33"/>
<rect x="61.55" y="462.47" width="2.11" height="4.45" fill="#D97A80"/>
<rect x="219.99" y="462.47" width="2.11" height="4.45" fill="#C42A33"/>
<rect x="99.48" y="466.92" width="2.11" height="4.45" fill="#C42A33"/>
<rect x="150.81" y="466.92" width="2.11" height="4.45" fill="#C42A33"/>
<rect x="159.74" y="466.92" width="2.11" height="4.45" fill="#C42A33"/>
<rect x="170.89" y="466.92" width="2.11" height="4.45" fill="#C42A33"/>
<rect x="177.59" y="466.92" width="2.11" height="4.45" fill="#C42A33"/>
<rect x="184.28" y="466.92" width="2.11" height="4.45" fill="#C42A33"/>
<rect x="190.98" y="466.92" width="2.11" height="4.45" fill="#C42A33"/>
<rect x="199.90" y="466.92" width="2.11" height="4.45" fill="#C42A33"/>
<rect x="260.15" y="466.92" width="2.11" height="4.45" fill="#C42A33"/>
<rect x="264.62" y="466.92" width="2.11" height="4.45" fill="#C42A33"/>
<rect x="300.32" y="466.92" width="2.11" height="4.45" fill="#C42A33"/>
<rect x="324.87" y="466.92" width="2.11" height="4.45" fill="#C42A33"/>
<rect x="333.79" y="466.92" width="2.11" height="4.45" fill="#C42A33"/>
<rect x="48.16" y="471.38" width="2.11" height="4.45" fill="#C42A33"/>
<rect x="52.62" y="471.38" width="2.11" height="4.45" fill="#C42A33"/>
<rect x="59.32" y="471.38" width="2.11" height="4.45" fill="#C42A33"/>
<rect x="68.24" y="471.38" width="2.11" height="4.45" fill="#C42A33"/>
<rect x="77.17" y="471.38" width="2.11" height="4.45" fill="#C42A33"/>
<rect x="81.63" y="471.38" width="2.11" height="4.45" fill="#D97A80"/>
<rect x="83.86" y="471.38" width="2.11" height="4.45" fill="#D97A80"/>
<rect x="90.56" y="471.38" width="2.11" height="4.45" fill="#C42A33"/>
<rect x="95.02" y="471.38" width="2.11" height="4.45" fill="#C42A33"/>
<rect x="99.48" y="471.38" width="2.11" height="4.45" fill="#C42A33"/>
<rect x="103.95" y="471.38" width="2.11" height="4.45" fill="#C42A33"/>
<rect x="117.34" y="471.38" width="2.11" height="4.45" fill="#C42A33"/>
<rect x="119.57" y="471.38" width="2.11" height="4.45" fill="#C42A33"/>
<rect x="132.96" y="471.38" width="2.11" height="4.45" fill="#C42A33"/>
<rect x="137.42" y="471.38" width="2.11" height="4.45" fill="#C42A33"/>
<rect x="141.88" y="471.38" width="2.11" height="4.45" fill="#C42A33"/>
<rect x="166.43" y="471.38" width="2.11" height="4.45" fill="#C42A33"/>
<rect x="182.05" y="471.38" width="2.11" height="4.45" fill="#C42A33"/>
<rect x="219.99" y="471.38" width="2.11" height="4.45" fill="#C42A33"/>
<rect x="226.68" y="471.38" width="2.11" height="4.45" fill="#C42A33"/>
<rect x="242.30" y="471.38" width="2.11" height="4.45" fill="#C42A33"/>
<rect x="260.15" y="471.38" width="2.11" height="4.45" fill="#C42A33"/>
<rect x="311.48" y="471.38" width="2.11" height="4.45" fill="#C42A33"/>
<rect x="318.17" y="471.38" width="2.11" height="4.45" fill="#C42A33"/>
<rect x="327.10" y="471.38" width="2.11" height="4.45" fill="#C42A33"/>
<rect x="333.79" y="471.38" width="2.11" height="4.45" fill="#C42A33"/>
<rect x="336.02" y="471.38" width="2.11" height="4.45" fill="#C42A33"/>
<rect x="340.49" y="471.38" width="2.11" height="4.45" fill="#C42A33"/>
<rect x="83.86" y="475.82" width="2.11" height="4.45" fill="#D97A80"/>
<rect x="322.64" y="480.27" width="2.11" height="4.45" fill="#2A9898"/>
<rect x="329.33" y="484.72" width="2.11" height="4.45" fill="#2A9898"/>
<rect x="77.17" y="489.17" width="2.11" height="4.45" fill="#2A9898"/>
<rect x="99.48" y="489.17" width="2.11" height="4.45" fill="#2A9898"/>
<rect x="110.64" y="489.17" width="2.11" height="4.45" fill="#2A9898"/>
<rect x="128.49" y="489.17" width="2.11" height="4.45" fill="#2A9898"/>
<rect x="208.83" y="489.17" width="2.11" height="4.45" fill="#2A9898"/>
<rect x="219.99" y="489.17" width="2.11" height="4.45" fill="#2A9898"/>
<rect x="240.07" y="489.17" width="2.11" height="4.45" fill="#2A9898"/>
<rect x="269.08" y="489.17" width="2.11" height="4.45" fill="#2A9898"/>
<rect x="57.09" y="493.62" width="2.11" height="4.45" fill="#2A9898"/>
<rect x="204.37" y="493.62" width="2.11" height="4.45" fill="#2A9898"/>
<rect x="217.75" y="493.62" width="2.11" height="4.45" fill="#2A9898"/>
<rect x="286.93" y="493.62" width="2.11" height="4.45" fill="#2A9898"/>
<rect x="291.39" y="493.62" width="2.11" height="4.45" fill="#2A9898"/>
<rect x="298.09" y="493.62" width="2.11" height="4.45" fill="#2A9898"/>
<rect x="322.64" y="493.62" width="2.11" height="4.45" fill="#2A9898"/>
<rect x="360.57" y="493.62" width="2.11" height="4.45" fill="#2A9898"/>
<rect x="369.50" y="493.62" width="2.11" height="4.45" fill="#2A9898"/>
<rect x="68.24" y="498.07" width="2.11" height="4.45" fill="#2A9898"/>
<rect x="83.86" y="498.07" width="2.11" height="4.45" fill="#2A9898"/>
<rect x="108.41" y="498.07" width="2.11" height="4.45" fill="#2A9898"/>
<rect x="130.73" y="498.07" width="2.11" height="4.45" fill="#2A9898"/>
<rect x="144.11" y="498.07" width="2.11" height="4.45" fill="#2A9898"/>
<rect x="164.20" y="498.07" width="2.11" height="4.45" fill="#2A9898"/>
<rect x="166.43" y="498.07" width="2.11" height="4.45" fill="#2A9898"/>
<rect x="173.12" y="498.07" width="2.11" height="4.45" fill="#2A9898"/>
<rect x="190.98" y="498.07" width="2.11" height="4.45" fill="#2A9898"/>
<rect x="199.90" y="498.07" width="2.11" height="4.45" fill="#2A9898"/>
<rect x="206.60" y="498.07" width="2.11" height="4.45" fill="#2A9898"/>
<rect x="217.75" y="498.07" width="2.11" height="4.45" fill="#2A9898"/>
<rect x="228.91" y="498.07" width="2.11" height="4.45" fill="#2A9898"/>
<rect x="240.07" y="498.07" width="2.11" height="4.45" fill="#2A9898"/>
<rect x="242.30" y="498.07" width="2.11" height="4.45" fill="#2A9898"/>
<rect x="253.46" y="498.07" width="2.11" height="4.45" fill="#2A9898"/>
<rect x="262.38" y="498.07" width="2.11" height="4.45" fill="#2A9898"/>
<rect x="266.85" y="498.07" width="2.11" height="4.45" fill="#2A9898"/>
<rect x="282.47" y="498.07" width="2.11" height="4.45" fill="#2A9898"/>
<rect x="295.86" y="498.07" width="2.11" height="4.45" fill="#2A9898"/>
<rect x="315.94" y="498.07" width="2.11" height="4.45" fill="#2A9898"/>
<rect x="324.87" y="498.07" width="2.11" height="4.45" fill="#2A9898"/>
<rect x="327.10" y="498.07" width="2.11" height="4.45" fill="#2A9898"/>
<rect x="331.56" y="498.07" width="2.11" height="4.45" fill="#2A9898"/>
<rect x="344.95" y="498.07" width="2.11" height="4.45" fill="#2A9898"/>
<rect x="347.18" y="498.07" width="2.11" height="4.45" fill="#2A9898"/>
<rect x="135.19" y="502.52" width="2.11" height="4.45" fill="#2A9898"/>
<rect x="179.82" y="506.97" width="2.11" height="4.45" fill="#2A9898"/>
<rect x="204.37" y="506.97" width="2.11" height="4.45" fill="#2A9898"/>
<rect x="235.61" y="506.97" width="2.11" height="4.45" fill="#2A9898"/>
<rect x="264.62" y="506.97" width="2.11" height="4.45" fill="#2A9898"/>
<rect x="278.01" y="506.97" width="2.11" height="4.45" fill="#2A9898"/>
<rect x="338.26" y="506.97" width="2.11" height="4.45" fill="#2A9898"/>
<rect x="72.71" y="511.42" width="2.11" height="4.45" fill="#2A9898"/>
<rect x="88.33" y="511.42" width="2.11" height="4.45" fill="#2A9898"/>
<rect x="108.41" y="511.42" width="2.11" height="4.45" fill="#2A9898"/>
<rect x="150.81" y="511.42" width="2.11" height="4.45" fill="#2A9898"/>
<rect x="161.97" y="511.42" width="2.11" height="4.45" fill="#2A9898"/>
<rect x="173.12" y="511.42" width="2.11" height="4.45" fill="#2A9898"/>
<rect x="202.13" y="511.42" width="2.11" height="4.45" fill="#2A9898"/>
<rect x="253.46" y="511.42" width="2.11" height="4.45" fill="#2A9898"/>
<rect x="266.85" y="511.42" width="2.11" height="4.45" fill="#2A9898"/>
<rect x="315.94" y="511.42" width="2.11" height="4.45" fill="#2A9898"/>
<rect x="351.64" y="511.42" width="2.11" height="4.45" fill="#2A9898"/>
<rect x="81.63" y="515.88" width="2.11" height="4.45" fill="#7EC4C4"/>
<rect x="81.63" y="520.32" width="2.11" height="4.45" fill="#7EC4C4"/>
<rect x="295.86" y="524.77" width="2.11" height="4.45" fill="#7EC4C4"/>
<rect x="124.03" y="529.23" width="2.11" height="4.45" fill="#2A9898"/>
<rect x="74.94" y="533.67" width="2.11" height="4.45" fill="#2A9898"/>
<rect x="97.25" y="533.67" width="2.11" height="4.45" fill="#2A9898"/>
<rect x="126.26" y="533.67" width="2.11" height="4.45" fill="#2A9898"/>
<rect x="68.24" y="538.12" width="2.11" height="4.45" fill="#2A9898"/>
<rect x="86.10" y="538.12" width="2.11" height="4.45" fill="#2A9898"/>
<rect x="92.79" y="538.12" width="2.11" height="4.45" fill="#2A9898"/>
<rect x="121.80" y="538.12" width="2.11" height="4.45" fill="#2A9898"/>
<rect x="153.04" y="538.12" width="2.11" height="4.45" fill="#2A9898"/>
<rect x="177.59" y="538.12" width="2.11" height="4.45" fill="#2A9898"/>
<rect x="179.82" y="538.12" width="2.11" height="4.45" fill="#2A9898"/>
<rect x="222.22" y="538.12" width="2.11" height="4.45" fill="#2A9898"/>
<rect x="242.30" y="538.12" width="2.11" height="4.45" fill="#2A9898"/>
<rect x="336.02" y="538.12" width="2.11" height="4.45" fill="#2A9898"/>
<rect x="365.03" y="538.12" width="2.11" height="4.45" fill="#7EC4C4"/>
<rect x="146.35" y="542.57" width="2.11" height="4.45" fill="#2A9898"/>
<rect x="329.33" y="542.57" width="2.11" height="4.45" fill="#7EC4C4"/>
<rect x="106.18" y="547.02" width="2.11" height="4.45" fill="#2A9898"/>
<rect x="266.85" y="547.02" width="2.11" height="4.45" fill="#2A9898"/>
<rect x="79.40" y="551.48" width="2.11" height="4.45" fill="#7EC4C4"/>
<rect x="54.85" y="555.92" width="2.11" height="4.45" fill="#0E8080"/>
<rect x="57.09" y="555.92" width="2.11" height="4.45" fill="#0E8080"/>
<rect x="106.18" y="555.92" width="2.11" height="4.45" fill="#2A9898"/>
<rect x="280.24" y="555.92" width="2.11" height="4.45" fill="#2A9898"/>
<rect x="293.63" y="555.92" width="2.11" height="4.45" fill="#2A9898"/>
<rect x="307.01" y="555.92" width="2.11" height="4.45" fill="#2A9898"/>
<rect x="309.25" y="555.92" width="2.11" height="4.45" fill="#2A9898"/>
<rect x="315.94" y="555.92" width="2.11" height="4.45" fill="#7EC4C4"/>
<rect x="318.17" y="555.92" width="2.11" height="4.45" fill="#7EC4C4"/>
<rect x="344.95" y="555.92" width="2.11" height="4.45" fill="#2A9898"/>
<rect x="146.35" y="560.38" width="2.11" height="4.45" fill="#2A9898"/>
<rect x="371.73" y="560.38" width="2.11" height="4.45" fill="#2A9898"/>
<rect x="115.11" y="564.82" width="2.11" height="4.45" fill="#7EC4C4"/>
<rect x="273.54" y="569.27" width="2.11" height="4.45" fill="#7EC4C4"/>
<rect x="168.66" y="573.73" width="2.11" height="4.45" fill="#5a5a5a"/>
<rect x="213.29" y="573.73" width="2.11" height="4.45" fill="#8c8c8c"/>
<rect x="342.72" y="573.73" width="2.11" height="4.45" fill="#5a5a5a"/>
<rect x="115.11" y="578.17" width="2.11" height="4.45" fill="#2a2a2a"/>
<rect x="124.03" y="578.17" width="2.11" height="4.45" fill="#5a5a5a"/>
<rect x="286.93" y="578.17" width="2.11" height="4.45" fill="#5a5a5a"/>
<rect x="351.64" y="578.17" width="2.11" height="4.45" fill="#5a5a5a"/>
<rect x="52.62" y="582.62" width="2.11" height="4.45" fill="#2a2a2a"/>
<rect x="124.03" y="582.62" width="2.11" height="4.45" fill="#5a5a5a"/>
<rect x="128.49" y="587.07" width="2.11" height="4.45" fill="#5a5a5a"/>
<rect x="253.46" y="587.07" width="2.11" height="4.45" fill="#5a5a5a"/>
<rect x="146.35" y="591.52" width="2.11" height="4.45" fill="#5a5a5a"/>
<rect x="182.05" y="591.52" width="2.11" height="4.45" fill="#5a5a5a"/>
<rect x="235.61" y="591.52" width="2.11" height="4.45" fill="#5a5a5a"/>
<rect x="240.07" y="591.52" width="2.11" height="4.45" fill="#5a5a5a"/>
<rect x="246.76" y="591.52" width="2.11" height="4.45" fill="#5a5a5a"/>
<rect x="311.48" y="591.52" width="2.11" height="4.45" fill="#8c8c8c"/>
<rect x="340.49" y="591.52" width="2.11" height="4.45" fill="#5a5a5a"/>
<rect x="349.41" y="591.52" width="2.11" height="4.45" fill="#5a5a5a"/>
<rect x="358.34" y="591.52" width="2.11" height="4.45" fill="#5a5a5a"/>
<rect x="365.03" y="591.52" width="2.11" height="4.45" fill="#5a5a5a"/>
<rect x="371.73" y="591.52" width="2.11" height="4.45" fill="#5a5a5a"/>
<rect x="59.32" y="595.98" width="2.11" height="4.45" fill="#5a5a5a"/>
<rect x="99.48" y="595.98" width="2.11" height="4.45" fill="#8c8c8c"/>
<rect x="137.42" y="595.98" width="2.11" height="4.45" fill="#5a5a5a"/>
<rect x="193.21" y="595.98" width="2.11" height="4.45" fill="#2a2a2a"/>
<rect x="195.44" y="595.98" width="2.11" height="4.45" fill="#2a2a2a"/>
<rect x="208.83" y="595.98" width="2.11" height="4.45" fill="#5a5a5a"/>
<rect x="266.85" y="595.98" width="2.11" height="4.45" fill="#8c8c8c"/>
<rect x="284.70" y="595.98" width="2.11" height="4.45" fill="#5a5a5a"/>
<rect x="342.72" y="595.98" width="2.11" height="4.45" fill="#5a5a5a"/>
<rect x="369.50" y="595.98" width="2.11" height="4.45" fill="#8c8c8c"/>
<rect x="215.52" y="600.42" width="2.11" height="4.45" fill="#2a2a2a"/>
<rect x="217.75" y="600.42" width="2.11" height="4.45" fill="#2a2a2a"/>
<rect x="262.38" y="600.42" width="2.11" height="4.45" fill="#5a5a5a"/>
<rect x="324.87" y="600.42" width="2.11" height="4.45" fill="#5a5a5a"/>
<rect x="108.41" y="604.88" width="2.11" height="4.45" fill="#5a5a5a"/>
<rect x="166.43" y="604.88" width="2.11" height="4.45" fill="#5a5a5a"/>
<rect x="237.84" y="604.88" width="2.11" height="4.45" fill="#5a5a5a"/>
<rect x="249.00" y="604.88" width="2.11" height="4.45" fill="#5a5a5a"/>
<rect x="57.09" y="609.32" width="2.11" height="4.45" fill="#5a5a5a"/>
<rect x="66.01" y="609.32" width="2.11" height="4.45" fill="#5a5a5a"/>
<rect x="81.63" y="609.32" width="2.11" height="4.45" fill="#5a5a5a"/>
<rect x="86.10" y="609.32" width="2.11" height="4.45" fill="#5a5a5a"/>
<rect x="92.79" y="609.32" width="2.11" height="4.45" fill="#5a5a5a"/>
<rect x="95.02" y="609.32" width="2.11" height="4.45" fill="#5a5a5a"/>
<rect x="101.72" y="609.32" width="2.11" height="4.45" fill="#5a5a5a"/>
<rect x="115.11" y="609.32" width="2.11" height="4.45" fill="#5a5a5a"/>
<rect x="121.80" y="609.32" width="2.11" height="4.45" fill="#5a5a5a"/>
<rect x="128.49" y="609.32" width="2.11" height="4.45" fill="#5a5a5a"/>
<rect x="132.96" y="609.32" width="2.11" height="4.45" fill="#8c8c8c"/>
<rect x="144.11" y="609.32" width="2.11" height="4.45" fill="#5a5a5a"/>
<rect x="148.58" y="609.32" width="2.11" height="4.45" fill="#5a5a5a"/>
<rect x="179.82" y="609.32" width="2.11" height="4.45" fill="#5a5a5a"/>
<rect x="208.83" y="609.32" width="2.11" height="4.45" fill="#5a5a5a"/>
<rect x="213.29" y="609.32" width="2.11" height="4.45" fill="#5a5a5a"/>
<rect x="235.61" y="609.32" width="2.11" height="4.45" fill="#5a5a5a"/>
<rect x="246.76" y="609.32" width="2.11" height="4.45" fill="#5a5a5a"/>
<rect x="264.62" y="609.32" width="2.11" height="4.45" fill="#8c8c8c"/>
<rect x="300.32" y="609.32" width="2.11" height="4.45" fill="#5a5a5a"/>
<rect x="313.71" y="609.32" width="2.11" height="4.45" fill="#5a5a5a"/>
<rect x="318.17" y="609.32" width="2.11" height="4.45" fill="#5a5a5a"/>
<rect x="329.33" y="609.32" width="2.11" height="4.45" fill="#5a5a5a"/>
<rect x="342.72" y="609.32" width="2.11" height="4.45" fill="#5a5a5a"/>
<rect x="362.80" y="609.32" width="2.11" height="4.45" fill="#5a5a5a"/>
<rect x="365.03" y="609.32" width="2.11" height="4.45" fill="#5a5a5a"/>
<rect x="367.27" y="609.32" width="2.11" height="4.45" fill="#5a5a5a"/>
<rect x="135.19" y="613.77" width="2.11" height="4.45" fill="#5a5a5a"/>
<rect x="186.51" y="613.77" width="2.11" height="4.45" fill="#5a5a5a"/>
<rect x="195.44" y="613.77" width="2.11" height="4.45" fill="#5a5a5a"/>
<rect x="255.69" y="613.77" width="2.11" height="4.45" fill="#5a5a5a"/>
<rect x="318.17" y="613.77" width="2.11" height="4.45" fill="#5a5a5a"/>
<rect x="367.27" y="613.77" width="2.11" height="4.45" fill="#5a5a5a"/>
<rect x="155.27" y="618.23" width="2.11" height="4.45" fill="#5a5a5a"/>
<rect x="164.20" y="618.23" width="2.11" height="4.45" fill="#5a5a5a"/>
<rect x="175.36" y="618.23" width="2.11" height="4.45" fill="#5a5a5a"/>
<rect x="177.59" y="618.23" width="2.11" height="4.45" fill="#5a5a5a"/>
<rect x="257.92" y="618.23" width="2.11" height="4.45" fill="#5a5a5a"/>
<rect x="280.24" y="618.23" width="2.11" height="4.45" fill="#5a5a5a"/>
<rect x="300.32" y="618.23" width="2.11" height="4.45" fill="#5a5a5a"/>
<rect x="182.05" y="622.67" width="2.11" height="4.45" fill="#5a5a5a"/>
<rect x="226.68" y="622.67" width="2.11" height="4.45" fill="#5a5a5a"/>
<rect x="251.23" y="622.67" width="2.11" height="4.45" fill="#5a5a5a"/>
<rect x="282.47" y="622.67" width="2.11" height="4.45" fill="#5a5a5a"/>
<rect x="338.26" y="622.67" width="2.11" height="4.45" fill="#5a5a5a"/>
<rect x="59.32" y="627.12" width="2.11" height="4.45" fill="#8c8c8c"/>
<rect x="153.04" y="627.12" width="2.11" height="4.45" fill="#5a5a5a"/>
<rect x="170.89" y="627.12" width="2.11" height="4.45" fill="#5a5a5a"/>
<rect x="177.59" y="627.12" width="2.11" height="4.45" fill="#5a5a5a"/>
<rect x="199.90" y="627.12" width="2.11" height="4.45" fill="#5a5a5a"/>
<rect x="222.22" y="627.12" width="2.11" height="4.45" fill="#5a5a5a"/>
<rect x="226.68" y="627.12" width="2.11" height="4.45" fill="#5a5a5a"/>
<rect x="315.94" y="627.12" width="2.11" height="4.45" fill="#5a5a5a"/>
<rect x="356.11" y="627.12" width="2.11" height="4.45" fill="#5a5a5a"/>
<rect x="360.57" y="627.12" width="2.11" height="4.45" fill="#5a5a5a"/>
<rect x="365.03" y="627.12" width="2.11" height="4.45" fill="#5a5a5a"/>
<rect x="61.55" y="631.57" width="2.11" height="4.45" fill="#2a2a2a"/>
<rect x="72.71" y="631.57" width="2.11" height="4.45" fill="#5a5a5a"/>
<rect x="99.48" y="631.57" width="2.11" height="4.45" fill="#5a5a5a"/>
<rect x="153.04" y="631.57" width="2.11" height="4.45" fill="#2a2a2a"/>
<rect x="155.27" y="631.57" width="2.11" height="4.45" fill="#2a2a2a"/>
<rect x="175.36" y="631.57" width="2.11" height="4.45" fill="#5a5a5a"/>
<rect x="188.74" y="631.57" width="2.11" height="4.45" fill="#2a2a2a"/>
<rect x="190.98" y="631.57" width="2.11" height="4.45" fill="#2a2a2a"/>
<rect x="211.06" y="631.57" width="2.11" height="4.45" fill="#5a5a5a"/>
<rect x="271.31" y="631.57" width="2.11" height="4.45" fill="#2a2a2a"/>
<rect x="141.88" y="636.02" width="2.11" height="4.45" fill="#5a5a5a"/>
<rect x="204.37" y="636.02" width="2.11" height="4.45" fill="#5a5a5a"/>
<rect x="231.14" y="640.48" width="2.11" height="4.45" fill="#5a5a5a"/>
<rect x="222.22" y="644.92" width="2.11" height="4.45" fill="#5a5a5a"/>
<rect x="159.74" y="649.38" width="2.11" height="4.45" fill="#5a5a5a"/>
<rect x="170.89" y="649.38" width="2.11" height="4.45" fill="#5a5a5a"/>
<rect x="199.90" y="649.38" width="2.11" height="4.45" fill="#5a5a5a"/>
<rect x="59.32" y="653.82" width="2.11" height="4.45" fill="#5a5a5a"/>
<rect x="63.78" y="653.82" width="2.11" height="4.45" fill="#5a5a5a"/>
<rect x="79.40" y="653.82" width="2.11" height="4.45" fill="#5a5a5a"/>
<rect x="81.63" y="653.82" width="2.11" height="4.45" fill="#5a5a5a"/>
<rect x="83.86" y="653.82" width="2.11" height="4.45" fill="#5a5a5a"/>
<rect x="86.10" y="653.82" width="2.11" height="4.45" fill="#5a5a5a"/>
<rect x="88.33" y="653.82" width="2.11" height="4.45" fill="#5a5a5a"/>
<rect x="90.56" y="653.82" width="2.11" height="4.45" fill="#5a5a5a"/>
<rect x="99.48" y="653.82" width="2.11" height="4.45" fill="#5a5a5a"/>
<rect x="110.64" y="653.82" width="2.11" height="4.45" fill="#5a5a5a"/>
<rect x="112.87" y="653.82" width="2.11" height="4.45" fill="#5a5a5a"/>
<rect x="119.57" y="653.82" width="2.11" height="4.45" fill="#5a5a5a"/>
<rect x="130.73" y="653.82" width="2.11" height="4.45" fill="#5a5a5a"/>
<rect x="132.96" y="653.82" width="2.11" height="4.45" fill="#5a5a5a"/>
<rect x="135.19" y="653.82" width="2.11" height="4.45" fill="#5a5a5a"/>
<rect x="137.42" y="653.82" width="2.11" height="4.45" fill="#5a5a5a"/>
<rect x="146.35" y="653.82" width="2.11" height="4.45" fill="#5a5a5a"/>
<rect x="159.74" y="653.82" width="2.11" height="4.45" fill="#5a5a5a"/>
<rect x="168.66" y="653.82" width="2.11" height="4.45" fill="#5a5a5a"/>
<rect x="170.89" y="653.82" width="2.11" height="4.45" fill="#5a5a5a"/>
<rect x="184.28" y="653.82" width="2.11" height="4.45" fill="#5a5a5a"/>
<rect x="195.44" y="653.82" width="2.11" height="4.45" fill="#5a5a5a"/>
<rect x="199.90" y="653.82" width="2.11" height="4.45" fill="#5a5a5a"/>
<rect x="206.60" y="653.82" width="2.11" height="4.45" fill="#5a5a5a"/>
<rect x="211.06" y="653.82" width="2.11" height="4.45" fill="#5a5a5a"/>
<rect x="251.23" y="653.82" width="2.11" height="4.45" fill="#5a5a5a"/>
<rect x="264.62" y="653.82" width="2.11" height="4.45" fill="#5a5a5a"/>
<rect x="298.09" y="653.82" width="2.11" height="4.45" fill="#5a5a5a"/>
<rect x="309.25" y="653.82" width="2.11" height="4.45" fill="#5a5a5a"/>
<rect x="356.11" y="653.82" width="2.11" height="4.45" fill="#5a5a5a"/>
<rect x="362.80" y="653.82" width="2.11" height="4.45" fill="#5a5a5a"/>
<rect x="217.75" y="658.27" width="2.11" height="4.45" fill="#5a5a5a"/>
<rect x="271.31" y="658.27" width="2.11" height="4.45" fill="#5a5a5a"/>
<rect x="275.77" y="658.27" width="2.11" height="4.45" fill="#5a5a5a"/>
<rect x="86.10" y="662.73" width="2.11" height="4.45" fill="#5a5a5a"/>
<rect x="264.62" y="667.17" width="2.11" height="4.45" fill="#5a5a5a"/>
<rect x="110.64" y="671.62" width="2.11" height="4.45" fill="#5a5a5a"/>
<rect x="139.65" y="676.07" width="2.11" height="4.45" fill="#5a5a5a"/>
<rect x="251.23" y="676.07" width="2.11" height="4.45" fill="#5a5a5a"/>
<rect x="47.2" y="330.85" width="0.7" height="0.7" fill="#555"/>
<rect x="47.2" y="335.30" width="0.7" height="0.7" fill="#555"/>
<rect x="47.2" y="339.75" width="0.7" height="0.7" fill="#555"/>
<rect x="47.2" y="344.20" width="0.7" height="0.7" fill="#555"/>
<rect x="47.2" y="348.65" width="0.7" height="0.7" fill="#555"/>
<rect x="47.2" y="353.10" width="0.7" height="0.7" fill="#555"/>
<rect x="47.2" y="357.55" width="0.7" height="0.7" fill="#555"/>
<rect x="47.2" y="362.00" width="0.7" height="0.7" fill="#555"/>
<rect x="47.2" y="366.45" width="0.7" height="0.7" fill="#555"/>
<rect x="47.2" y="370.90" width="0.7" height="0.7" fill="#555"/>
<rect x="47.2" y="375.35" width="0.7" height="0.7" fill="#555"/>
<rect x="47.2" y="379.80" width="0.7" height="0.7" fill="#555"/>
<rect x="47.2" y="384.25" width="0.7" height="0.7" fill="#555"/>
<rect x="47.2" y="388.70" width="0.7" height="0.7" fill="#555"/>
<rect x="47.2" y="393.15" width="0.7" height="0.7" fill="#555"/>
<rect x="47.2" y="397.60" width="0.7" height="0.7" fill="#555"/>
<rect x="47.2" y="402.05" width="0.7" height="0.7" fill="#555"/>
<rect x="47.2" y="406.50" width="0.7" height="0.7" fill="#555"/>
<rect x="47.2" y="410.95" width="0.7" height="0.7" fill="#555"/>
<rect x="47.2" y="415.40" width="0.7" height="0.7" fill="#555"/>
<rect x="47.2" y="419.85" width="0.7" height="0.7" fill="#555"/>
<rect x="47.2" y="424.30" width="0.7" height="0.7" fill="#555"/>
<rect x="47.2" y="428.75" width="0.7" height="0.7" fill="#555"/>
<rect x="47.2" y="433.20" width="0.7" height="0.7" fill="#555"/>
<rect x="47.2" y="437.65" width="0.7" height="0.7" fill="#555"/>
<rect x="47.2" y="442.10" width="0.7" height="0.7" fill="#555"/>
<rect x="47.2" y="446.55" width="0.7" height="0.7" fill="#555"/>
<rect x="47.2" y="451.00" width="0.7" height="0.7" fill="#555"/>
<rect x="47.2" y="455.45" width="0.7" height="0.7" fill="#555"/>
<rect x="47.2" y="459.90" width="0.7" height="0.7" fill="#555"/>
<rect x="47.2" y="464.35" width="0.7" height="0.7" fill="#555"/>
<rect x="47.2" y="468.80" width="0.7" height="0.7" fill="#555"/>
<rect x="47.2" y="473.25" width="0.7" height="0.7" fill="#555"/>
<rect x="47.2" y="477.70" width="0.7" height="0.7" fill="#555"/>
<rect x="47.2" y="482.15" width="0.7" height="0.7" fill="#555"/>
<rect x="47.2" y="486.60" width="0.7" height="0.7" fill="#555"/>
<rect x="47.2" y="491.05" width="0.7" height="0.7" fill="#555"/>
<rect x="47.2" y="495.50" width="0.7" height="0.7" fill="#555"/>
<rect x="47.2" y="499.95" width="0.7" height="0.7" fill="#555"/>
<rect x="47.2" y="504.40" width="0.7" height="0.7" fill="#555"/>
<rect x="47.2" y="508.85" width="0.7" height="0.7" fill="#555"/>
<rect x="47.2" y="513.30" width="0.7" height="0.7" fill="#555"/>
<rect x="47.2" y="517.75" width="0.7" height="0.7" fill="#555"/>
<rect x="47.2" y="522.20" width="0.7" height="0.7" fill="#555"/>
<rect x="47.2" y="526.65" width="0.7" height="0.7" fill="#555"/>
<rect x="47.2" y="531.10" width="0.7" height="0.7" fill="#555"/>
<rect x="47.2" y="535.55" width="0.7" height="0.7" fill="#555"/>
<rect x="47.2" y="540.00" width="0.7" height="0.7" fill="#555"/>
<rect x="47.2" y="544.45" width="0.7" height="0.7" fill="#555"/>
<rect x="47.2" y="548.90" width="0.7" height="0.7" fill="#555"/>
<rect x="47.2" y="553.35" width="0.7" height="0.7" fill="#555"/>
<rect x="47.2" y="557.80" width="0.7" height="0.7" fill="#555"/>
<rect x="47.2" y="562.25" width="0.7" height="0.7" fill="#555"/>
<rect x="47.2" y="566.70" width="0.7" height="0.7" fill="#555"/>
<rect x="47.2" y="571.15" width="0.7" height="0.7" fill="#555"/>
<rect x="47.2" y="575.60" width="0.7" height="0.7" fill="#555"/>
<rect x="47.2" y="580.05" width="0.7" height="0.7" fill="#555"/>
<rect x="47.2" y="584.50" width="0.7" height="0.7" fill="#555"/>
<rect x="47.2" y="588.95" width="0.7" height="0.7" fill="#555"/>
<rect x="47.2" y="593.40" width="0.7" height="0.7" fill="#555"/>
<rect x="47.2" y="597.85" width="0.7" height="0.7" fill="#555"/>
<rect x="47.2" y="602.30" width="0.7" height="0.7" fill="#555"/>
<rect x="47.2" y="606.75" width="0.7" height="0.7" fill="#555"/>
<rect x="47.2" y="611.20" width="0.7" height="0.7" fill="#555"/>
<rect x="47.2" y="615.65" width="0.7" height="0.7" fill="#555"/>
<rect x="47.2" y="620.10" width="0.7" height="0.7" fill="#555"/>
<rect x="47.2" y="624.55" width="0.7" height="0.7" fill="#555"/>
<rect x="47.2" y="629.00" width="0.7" height="0.7" fill="#555"/>
<rect x="47.2" y="633.45" width="0.7" height="0.7" fill="#555"/>
<rect x="47.2" y="637.90" width="0.7" height="0.7" fill="#555"/>
<rect x="47.2" y="642.35" width="0.7" height="0.7" fill="#555"/>
<rect x="47.2" y="646.80" width="0.7" height="0.7" fill="#555"/>
<rect x="47.2" y="651.25" width="0.7" height="0.7" fill="#555"/>
<rect x="47.2" y="655.70" width="0.7" height="0.7" fill="#555"/>
<rect x="47.2" y="660.15" width="0.7" height="0.7" fill="#555"/>
<rect x="47.2" y="664.60" width="0.7" height="0.7" fill="#555"/>
<rect x="47.2" y="669.05" width="0.7" height="0.7" fill="#555"/>
<rect x="47.2" y="673.50" width="0.7" height="0.7" fill="#555"/>
<rect x="47.2" y="677.95" width="0.7" height="0.7" fill="#555"/>
<rect x="48.92" y="680.2" width="0.6" height="0.9" fill="#999"/>
<rect x="51.15" y="680.2" width="0.6" height="0.9" fill="#999"/>
<rect x="53.38" y="680.2" width="0.6" height="0.9" fill="#999"/>
<rect x="55.61" y="680.2" width="0.6" height="0.9" fill="#999"/>
<rect x="57.84" y="680.2" width="0.6" height="0.9" fill="#999"/>
<rect x="60.07" y="680.2" width="0.6" height="0.9" fill="#999"/>
<rect x="62.30" y="680.2" width="0.6" height="0.9" fill="#999"/>
<rect x="64.54" y="680.2" width="0.6" height="0.9" fill="#999"/>
<rect x="66.77" y="680.2" width="0.6" height="0.9" fill="#999"/>
<rect x="69.00" y="680.2" width="0.6" height="0.9" fill="#999"/>
<rect x="71.23" y="680.2" width="0.6" height="0.9" fill="#999"/>
<rect x="73.46" y="680.2" width="0.6" height="0.9" fill="#999"/>
<rect x="75.69" y="680.2" width="0.6" height="0.9" fill="#999"/>
<rect x="77.93" y="680.2" width="0.6" height="0.9" fill="#999"/>
<rect x="80.16" y="680.2" width="0.6" height="0.9" fill="#999"/>
<rect x="82.39" y="680.2" width="0.6" height="0.9" fill="#999"/>
<rect x="84.62" y="680.2" width="0.6" height="0.9" fill="#999"/>
<rect x="86.85" y="680.2" width="0.6" height="0.9" fill="#999"/>
<rect x="89.08" y="680.2" width="0.6" height="0.9" fill="#999"/>
<rect x="91.31" y="680.2" width="0.6" height="0.9" fill="#999"/>
<rect x="93.55" y="680.2" width="0.6" height="0.9" fill="#999"/>
<rect x="95.78" y="680.2" width="0.6" height="0.9" fill="#999"/>
<rect x="98.01" y="680.2" width="0.6" height="0.9" fill="#999"/>
<rect x="100.24" y="680.2" width="0.6" height="0.9" fill="#999"/>
<rect x="102.47" y="680.2" width="0.6" height="0.9" fill="#999"/>
<rect x="104.70" y="680.2" width="0.6" height="0.9" fill="#999"/>
<rect x="106.93" y="680.2" width="0.6" height="0.9" fill="#999"/>
<rect x="109.17" y="680.2" width="0.6" height="0.9" fill="#999"/>
<rect x="111.40" y="680.2" width="0.6" height="0.9" fill="#999"/>
<rect x="113.63" y="680.2" width="0.6" height="0.9" fill="#999"/>
<rect x="115.86" y="680.2" width="0.6" height="0.9" fill="#999"/>
<rect x="118.09" y="680.2" width="0.6" height="0.9" fill="#999"/>
<rect x="120.32" y="680.2" width="0.6" height="0.9" fill="#999"/>
<rect x="122.56" y="680.2" width="0.6" height="0.9" fill="#999"/>
<rect x="124.79" y="680.2" width="0.6" height="0.9" fill="#999"/>
<rect x="127.02" y="680.2" width="0.6" height="0.9" fill="#999"/>
<rect x="129.25" y="680.2" width="0.6" height="0.9" fill="#999"/>
<rect x="131.48" y="680.2" width="0.6" height="0.9" fill="#999"/>
<rect x="133.71" y="680.2" width="0.6" height="0.9" fill="#999"/>
<rect x="135.94" y="680.2" width="0.6" height="0.9" fill="#999"/>
<rect x="138.18" y="680.2" width="0.6" height="0.9" fill="#999"/>
<rect x="140.41" y="680.2" width="0.6" height="0.9" fill="#999"/>
<rect x="142.64" y="680.2" width="0.6" height="0.9" fill="#999"/>
<rect x="144.87" y="680.2" width="0.6" height="0.9" fill="#999"/>
<rect x="147.10" y="680.2" width="0.6" height="0.9" fill="#999"/>
<rect x="149.33" y="680.2" width="0.6" height="0.9" fill="#999"/>
<rect x="151.57" y="680.2" width="0.6" height="0.9" fill="#999"/>
<rect x="153.80" y="680.2" width="0.6" height="0.9" fill="#999"/>
<rect x="156.03" y="680.2" width="0.6" height="0.9" fill="#999"/>
<rect x="158.26" y="680.2" width="0.6" height="0.9" fill="#999"/>
<rect x="160.49" y="680.2" width="0.6" height="0.9" fill="#999"/>
<rect x="162.72" y="680.2" width="0.6" height="0.9" fill="#999"/>
<rect x="164.95" y="680.2" width="0.6" height="0.9" fill="#999"/>
<rect x="167.19" y="680.2" width="0.6" height="0.9" fill="#999"/>
<rect x="169.42" y="680.2" width="0.6" height="0.9" fill="#999"/>
<rect x="171.65" y="680.2" width="0.6" height="0.9" fill="#999"/>
<rect x="173.88" y="680.2" width="0.6" height="0.9" fill="#999"/>
<rect x="176.11" y="680.2" width="0.6" height="0.9" fill="#999"/>
<rect x="178.34" y="680.2" width="0.6" height="0.9" fill="#999"/>
<rect x="180.57" y="680.2" width="0.6" height="0.9" fill="#999"/>
<rect x="182.81" y="680.2" width="0.6" height="0.9" fill="#999"/>
<rect x="185.04" y="680.2" width="0.6" height="0.9" fill="#999"/>
<rect x="187.27" y="680.2" width="0.6" height="0.9" fill="#999"/>
<rect x="189.50" y="680.2" width="0.6" height="0.9" fill="#999"/>
<rect x="191.73" y="680.2" width="0.6" height="0.9" fill="#999"/>
<rect x="193.96" y="680.2" width="0.6" height="0.9" fill="#999"/>
<rect x="196.20" y="680.2" width="0.6" height="0.9" fill="#999"/>
<rect x="198.43" y="680.2" width="0.6" height="0.9" fill="#999"/>
<rect x="200.66" y="680.2" width="0.6" height="0.9" fill="#999"/>
<rect x="202.89" y="680.2" width="0.6" height="0.9" fill="#999"/>
<rect x="205.12" y="680.2" width="0.6" height="0.9" fill="#999"/>
<rect x="207.35" y="680.2" width="0.6" height="0.9" fill="#999"/>
<rect x="209.58" y="680.2" width="0.6" height="0.9" fill="#999"/>
<rect x="211.82" y="680.2" width="0.6" height="0.9" fill="#999"/>
<rect x="214.05" y="680.2" width="0.6" height="0.9" fill="#999"/>
<rect x="216.28" y="680.2" width="0.6" height="0.9" fill="#999"/>
<rect x="218.51" y="680.2" width="0.6" height="0.9" fill="#999"/>
<rect x="220.74" y="680.2" width="0.6" height="0.9" fill="#999"/>
<rect x="222.97" y="680.2" width="0.6" height="0.9" fill="#999"/>
<rect x="225.20" y="680.2" width="0.6" height="0.9" fill="#999"/>
<rect x="227.44" y="680.2" width="0.6" height="0.9" fill="#999"/>
<rect x="229.67" y="680.2" width="0.6" height="0.9" fill="#999"/>
<rect x="231.90" y="680.2" width="0.6" height="0.9" fill="#999"/>
<rect x="234.13" y="680.2" width="0.6" height="0.9" fill="#999"/>
<rect x="236.36" y="680.2" width="0.6" height="0.9" fill="#999"/>
<rect x="238.59" y="680.2" width="0.6" height="0.9" fill="#999"/>
<rect x="240.83" y="680.2" width="0.6" height="0.9" fill="#999"/>
<rect x="243.06" y="680.2" width="0.6" height="0.9" fill="#999"/>
<rect x="245.29" y="680.2" width="0.6" height="0.9" fill="#999"/>
<rect x="247.52" y="680.2" width="0.6" height="0.9" fill="#999"/>
<rect x="249.75" y="680.2" width="0.6" height="0.9" fill="#999"/>
<rect x="251.98" y="680.2" width="0.6" height="0.9" fill="#999"/>
<rect x="254.21" y="680.2" width="0.6" height="0.9" fill="#999"/>
<rect x="256.45" y="680.2" width="0.6" height="0.9" fill="#999"/>
<rect x="258.68" y="680.2" width="0.6" height="0.9" fill="#999"/>
<rect x="260.91" y="680.2" width="0.6" height="0.9" fill="#999"/>
<rect x="263.14" y="680.2" width="0.6" height="0.9" fill="#999"/>
<rect x="265.37" y="680.2" width="0.6" height="0.9" fill="#999"/>
<rect x="267.60" y="680.2" width="0.6" height="0.9" fill="#999"/>
<rect x="269.83" y="680.2" width="0.6" height="0.9" fill="#999"/>
<rect x="272.07" y="680.2" width="0.6" height="0.9" fill="#999"/>
<rect x="274.30" y="680.2" width="0.6" height="0.9" fill="#999"/>
<rect x="276.53" y="680.2" width="0.6" height="0.9" fill="#999"/>
<rect x="278.76" y="680.2" width="0.6" height="0.9" fill="#999"/>
<rect x="280.99" y="680.2" width="0.6" height="0.9" fill="#999"/>
<rect x="283.22" y="680.2" width="0.6" height="0.9" fill="#999"/>
<rect x="285.46" y="680.2" width="0.6" height="0.9" fill="#999"/>
<rect x="287.69" y="680.2" width="0.6" height="0.9" fill="#999"/>
<rect x="289.92" y="680.2" width="0.6" height="0.9" fill="#999"/>
<rect x="292.15" y="680.2" width="0.6" height="0.9" fill="#999"/>
<rect x="294.38" y="680.2" width="0.6" height="0.9" fill="#999"/>
<rect x="296.61" y="680.2" width="0.6" height="0.9" fill="#999"/>
<rect x="298.84" y="680.2" width="0.6" height="0.9" fill="#999"/>
<rect x="301.08" y="680.2" width="0.6" height="0.9" fill="#999"/>
<rect x="303.31" y="680.2" width="0.6" height="0.9" fill="#999"/>
<rect x="305.54" y="680.2" width="0.6" height="0.9" fill="#999"/>
<rect x="307.77" y="680.2" width="0.6" height="0.9" fill="#999"/>
<rect x="310.00" y="680.2" width="0.6" height="0.9" fill="#999"/>
<rect x="312.23" y="680.2" width="0.6" height="0.9" fill="#999"/>
<rect x="314.47" y="680.2" width="0.6" height="0.9" fill="#999"/>
<rect x="316.70" y="680.2" width="0.6" height="0.9" fill="#999"/>
<rect x="318.93" y="680.2" width="0.6" height="0.9" fill="#999"/>
<rect x="321.16" y="680.2" width="0.6" height="0.9" fill="#999"/>
<rect x="323.39" y="680.2" width="0.6" height="0.9" fill="#999"/>
<rect x="325.62" y="680.2" width="0.6" height="0.9" fill="#999"/>
<rect x="327.85" y="680.2" width="0.6" height="0.9" fill="#999"/>
<rect x="330.09" y="680.2" width="0.6" height="0.9" fill="#999"/>
<rect x="332.32" y="680.2" width="0.6" height="0.9" fill="#999"/>
<rect x="334.55" y="680.2" width="0.6" height="0.9" fill="#999"/>
<rect x="336.78" y="680.2" width="0.6" height="0.9" fill="#999"/>
<rect x="339.01" y="680.2" width="0.6" height="0.9" fill="#999"/>
<rect x="341.24" y="680.2" width="0.6" height="0.9" fill="#999"/>
<rect x="343.47" y="680.2" width="0.6" height="0.9" fill="#999"/>
<rect x="345.71" y="680.2" width="0.6" height="0.9" fill="#999"/>
<rect x="347.94" y="680.2" width="0.6" height="0.9" fill="#999"/>
<rect x="350.17" y="680.2" width="0.6" height="0.9" fill="#999"/>
<rect x="352.40" y="680.2" width="0.6" height="0.9" fill="#999"/>
<rect x="354.63" y="680.2" width="0.6" height="0.9" fill="#999"/>
<rect x="356.86" y="680.2" width="0.6" height="0.9" fill="#999"/>
<rect x="359.10" y="680.2" width="0.6" height="0.9" fill="#999"/>
<rect x="361.33" y="680.2" width="0.6" height="0.9" fill="#999"/>
<rect x="363.56" y="680.2" width="0.6" height="0.9" fill="#999"/>
<rect x="365.79" y="680.2" width="0.6" height="0.9" fill="#999"/>
<rect x="368.02" y="680.2" width="0.6" height="0.9" fill="#999"/>
<rect x="370.25" y="680.2" width="0.6" height="0.9" fill="#999"/>
<rect x="372.48" y="680.2" width="0.6" height="0.9" fill="#999"/>
<text x="45.6" y="346.7" font-size="4.9" text-anchor="end" font-weight="700" fill="#000" stroke="#000" stroke-width="0.18">aMe12</text>
<text x="45.6" y="364.09999999999997" font-size="4.9" text-anchor="end" font-weight="700" fill="#000" stroke="#000" stroke-width="0.18">aMe20</text>
<text x="45.6" y="380.09999999999997" font-size="4.9" text-anchor="end" font-weight="700" fill="#000" stroke="#000" stroke-width="0.18">aMe26</text>
<text x="45.6" y="395.2" font-size="4.9" text-anchor="end" font-weight="700" fill="#000" stroke="#000" stroke-width="0.18">MC62</text>
<text x="45.6" y="448.59999999999997" font-size="4.9" text-anchor="end" font-weight="700" fill="#000" stroke="#000" stroke-width="0.18">CB0081</text>
<text x="45.6" y="453.09999999999997" font-size="4.9" text-anchor="end" font-weight="700" fill="#000" stroke="#000" stroke-width="0.18">CB9111</text>
<text x="45.6" y="457.5" font-size="4.9" text-anchor="end" font-weight="700" fill="#000" stroke="#000" stroke-width="0.18">CB0156</text>
<text x="45.6" y="462.0" font-size="4.9" text-anchor="end" font-weight="700" fill="#000" stroke="#000" stroke-width="0.18">CB0165</text>
<text x="45.6" y="466.4" font-size="4.9" text-anchor="end" font-weight="700" fill="#000" stroke="#000" stroke-width="0.18">CB0157</text>
<text x="45.6" y="470.9" font-size="4.9" text-anchor="end" font-weight="700" fill="#000" stroke="#000" stroke-width="0.18">CB0334</text>
<text x="45.6" y="475.3" font-size="4.9" text-anchor="end" font-weight="700" fill="#000" stroke="#000" stroke-width="0.18">CB0389</text>
<text x="45.6" y="515.5" font-size="4.9" text-anchor="end" font-weight="700" fill="#000" stroke="#000" stroke-width="0.18">CB0274</text>
<text x="45.6" y="521.7" font-size="4.9" text-anchor="end" font-weight="700" fill="#000" stroke="#000" stroke-width="0.18">LT43</text>
<text x="45.6" y="528.5" font-size="4.9" text-anchor="end" font-weight="700" fill="#000" stroke="#000" stroke-width="0.18">LT57</text>
<text x="45.6" y="533.1" font-size="4.9" text-anchor="end" font-weight="700" fill="#000" stroke="#000" stroke-width="0.18">LT67</text>
<text x="45.6" y="537.6" font-size="4.9" text-anchor="end" font-weight="700" fill="#000" stroke="#000" stroke-width="0.18">LT75</text>
<text x="45.6" y="542.3000000000001" font-size="4.9" text-anchor="end" font-weight="700" fill="#000" stroke="#000" stroke-width="0.18">PLP091</text>
<text x="45.6" y="546.6" font-size="4.9" text-anchor="end" font-weight="700" fill="#000" stroke="#000" stroke-width="0.18">PLP125</text>
<text x="45.6" y="551.3000000000001" font-size="4.9" text-anchor="end" font-weight="700" fill="#000" stroke="#000" stroke-width="0.18">PLP126</text>
<text x="45.6" y="557.7" font-size="4.9" text-anchor="end" font-weight="700" fill="#000" stroke="#000" stroke-width="0.18">SLP357</text>
<text x="45.6" y="564.4000000000001" font-size="4.9" text-anchor="end" font-weight="700" fill="#000" stroke="#000" stroke-width="0.18">SLP449</text>
<text x="45.6" y="571.1" font-size="4.9" text-anchor="end" font-weight="700" fill="#000" stroke="#000" stroke-width="0.18">VES044</text>
<text x="45.6" y="577.9000000000001" font-size="4.9" text-anchor="end" font-weight="700" fill="#000" stroke="#000" stroke-width="0.18">AVLP041</text>
<text x="45.6" y="584.4000000000001" font-size="4.9" text-anchor="end" font-weight="700" fill="#000" stroke="#000" stroke-width="0.18">AVLP043</text>
<text x="45.6" y="591.5" font-size="4.9" text-anchor="end" font-weight="700" fill="#000" stroke="#000" stroke-width="0.18">CL200</text>
<text x="45.6" y="598.2" font-size="4.9" text-anchor="end" font-weight="700" fill="#000" stroke="#000" stroke-width="0.18">CL258</text>
<text x="45.6" y="604.5" font-size="4.9" text-anchor="end" font-weight="700" fill="#000" stroke="#000" stroke-width="0.18">LHPV3c1</text>
<text x="45.6" y="609.2" font-size="4.9" text-anchor="end" font-weight="700" fill="#000" stroke="#000" stroke-width="0.18">LHPV8c1</text>
<text x="45.6" y="613.5" font-size="4.9" text-anchor="end" font-weight="700" fill="#000" stroke="#000" stroke-width="0.18">PLP095</text>
<text x="45.6" y="618.5" font-size="4.9" text-anchor="end" font-weight="700" fill="#000" stroke="#000" stroke-width="0.18">PLP128,</text>
<text x="45.6" y="622.8000000000001" font-size="4.9" text-anchor="end" font-weight="700" fill="#000" stroke="#000" stroke-width="0.18">PLP165</text>
<text x="45.6" y="626.6" font-size="4.9" text-anchor="end" font-weight="700" fill="#000" stroke="#000" stroke-width="0.18">PLP177</text>
<text x="45.6" y="631.3000000000001" font-size="4.9" text-anchor="end" font-weight="700" fill="#000" stroke="#000" stroke-width="0.18">PLP231</text>
<text x="45.6" y="635.6" font-size="4.9" text-anchor="end" font-weight="700" fill="#000" stroke="#000" stroke-width="0.18">PLP251</text>
<text x="45.6" y="649.1" font-size="4.9" text-anchor="end" font-weight="700" fill="#000" stroke="#000" stroke-width="0.18">SLP223, SLP224</text>
<text x="45.6" y="653.4000000000001" font-size="4.9" text-anchor="end" font-weight="700" fill="#000" stroke="#000" stroke-width="0.18">SMP459, SMP460</text>
<text x="45.6" y="658.3000000000001" font-size="4.9" text-anchor="end" font-weight="700" fill="#000" stroke="#000" stroke-width="0.18">CL083</text>
<text x="45.6" y="662.3000000000001" font-size="4.9" text-anchor="end" font-weight="700" fill="#000" stroke="#000" stroke-width="0.18">MB-C1</text>
<text x="45.6" y="666.5" font-size="4.9" text-anchor="end" font-weight="700" fill="#000" stroke="#000" stroke-width="0.18">PLP131</text>
<text x="45.6" y="671.1" font-size="4.9" text-anchor="end" font-weight="700" fill="#000" stroke="#000" stroke-width="0.18">PLP185, PLP186</text>
<text x="0" y="0" font-size="9.3" text-anchor="middle" font-weight="700" fill="#111" transform="translate(8.1,459.9) rotate(-90)">VPNs</text>
<text x="0" y="0" font-size="9.3" text-anchor="middle" font-weight="700" fill="#111" transform="translate(8.1,616.4) rotate(-90)">LVINs</text>
<text x="209.6" y="693.8" font-size="9.7" text-anchor="middle" font-weight="700" fill="#111" >KCγ-d's</text>
<defs><linearGradient id="go" x1="0" y1="0" x2="0" y2="1"><stop offset="0" stop-color="#EF8E1E"/><stop offset="1" stop-color="#F4C384"/></linearGradient><linearGradient id="gr" x1="0" y1="0" x2="0" y2="1"><stop offset="0" stop-color="#B51820"/><stop offset="1" stop-color="#D9747C"/></linearGradient><linearGradient id="gt" x1="0" y1="0" x2="0" y2="1"><stop offset="0" stop-color="#0B8080"/><stop offset="1" stop-color="#74BEBE"/></linearGradient><linearGradient id="gg" x1="0" y1="0" x2="0" y2="1"><stop offset="0" stop-color="#000"/><stop offset="1" stop-color="#808080"/></linearGradient></defs>
<rect x="383.2" y="323.8" width="3.2" height="52.8" fill="url(#go)"/>
<text x="388.9" y="328.0" font-size="6.9" text-anchor="start" font-weight="400" fill="#222" >synapse</text>
<text x="388.9" y="334.6" font-size="6.9" text-anchor="start" font-weight="400" fill="#222" >count</text>
<line x1="386.4" y1="364.2" x2="388.4" y2="364.2" stroke="#222" stroke-width="0.6"/>
<text x="389" y="367.09999999999997" font-size="6.7" text-anchor="start" font-weight="400" fill="#222" >10<tspan font-size="4" dy="-2.6">1</tspan></text>
<rect x="383.2" y="402.8" width="3.2" height="52.8" fill="url(#gr)"/>
<text x="388.9" y="407.0" font-size="6.9" text-anchor="start" font-weight="400" fill="#222" >synapse</text>
<text x="388.9" y="413.6" font-size="6.9" text-anchor="start" font-weight="400" fill="#222" >count</text>
<line x1="386.4" y1="442.5" x2="388.4" y2="442.5" stroke="#222" stroke-width="0.6"/>
<text x="389" y="445.4" font-size="6.7" text-anchor="start" font-weight="400" fill="#222" >10<tspan font-size="4" dy="-2.6">1</tspan></text>
<rect x="383.2" y="502.1" width="3.2" height="52.7" fill="url(#gt)"/>
<text x="388.9" y="506.3" font-size="6.9" text-anchor="start" font-weight="400" fill="#222" >synapse</text>
<text x="388.9" y="512.9" font-size="6.9" text-anchor="start" font-weight="400" fill="#222" >count</text>
<line x1="386.4" y1="540.6" x2="388.4" y2="540.6" stroke="#222" stroke-width="0.6"/>
<text x="389" y="543.5" font-size="6.7" text-anchor="start" font-weight="400" fill="#222" >10<tspan font-size="4" dy="-2.6">1</tspan></text>
<rect x="383.2" y="621.1" width="3.2" height="60.1" fill="url(#gg)"/>
<text x="388.9" y="625.3000000000001" font-size="6.9" text-anchor="start" font-weight="400" fill="#222" >synapse</text>
<text x="388.9" y="631.9" font-size="6.9" text-anchor="start" font-weight="400" fill="#222" >count</text>
<line x1="386.4" y1="666.3" x2="388.4" y2="666.3" stroke="#222" stroke-width="0.6"/>
<text x="389" y="669.1999999999999" font-size="6.7" text-anchor="start" font-weight="400" fill="#222" >10<tspan font-size="4" dy="-2.6">1</tspan></text>
</g>
</svg></body></html>
